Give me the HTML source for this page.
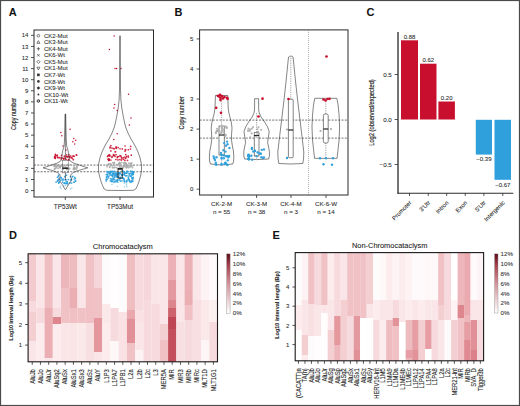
<!DOCTYPE html>
<html><head><meta charset="utf-8"><style>
html,body{margin:0;padding:0;background:#fff;}
svg{display:block;}
text{font-family:"Liberation Sans", sans-serif;}
</style></head><body>
<svg width="520" height="406" viewBox="0 0 520 406">
<defs><filter id="hb" x="-2%" y="-2%" width="104%" height="104%"><feGaussianBlur stdDeviation="0.6"/></filter></defs>
<rect width="520" height="406" fill="#fff"/>
<rect x="0.5" y="0.5" width="519" height="405" fill="none" stroke="#4a4a4a" stroke-width="1.2"/>
<text x="8.8" y="16" font-size="11" text-anchor="start" fill="#111" font-weight="bold">A</text>
<text x="174.6" y="16.2" font-size="11" text-anchor="start" fill="#111" font-weight="bold">B</text>
<text x="366.4" y="16.4" font-size="11" text-anchor="start" fill="#111" font-weight="bold">C</text>
<text x="9.0" y="239.2" font-size="11" text-anchor="start" fill="#111" font-weight="bold">D</text>
<text x="272.4" y="239.2" font-size="11" text-anchor="start" fill="#111" font-weight="bold">E</text>
<rect x="34" y="30" width="119.5" height="167" fill="none" stroke="#2a2a2a" stroke-width="1"/>
<line x1="31" y1="190.60" x2="34" y2="190.60" stroke="#2a2a2a" stroke-width="0.8"/>
<text x="28.4" y="192.7" font-size="6" text-anchor="end" fill="#2b2b2b" font-weight="normal" stroke="#2b2b2b" stroke-width="0.08">0</text>
<line x1="31" y1="179.51" x2="34" y2="179.51" stroke="#2a2a2a" stroke-width="0.8"/>
<text x="28.4" y="181.60999999999999" font-size="6" text-anchor="end" fill="#2b2b2b" font-weight="normal" stroke="#2b2b2b" stroke-width="0.08">1</text>
<line x1="31" y1="168.42" x2="34" y2="168.42" stroke="#2a2a2a" stroke-width="0.8"/>
<text x="28.4" y="170.51999999999998" font-size="6" text-anchor="end" fill="#2b2b2b" font-weight="normal" stroke="#2b2b2b" stroke-width="0.08">2</text>
<line x1="31" y1="157.33" x2="34" y2="157.33" stroke="#2a2a2a" stroke-width="0.8"/>
<text x="28.4" y="159.42999999999998" font-size="6" text-anchor="end" fill="#2b2b2b" font-weight="normal" stroke="#2b2b2b" stroke-width="0.08">3</text>
<line x1="31" y1="146.24" x2="34" y2="146.24" stroke="#2a2a2a" stroke-width="0.8"/>
<text x="28.4" y="148.34" font-size="6" text-anchor="end" fill="#2b2b2b" font-weight="normal" stroke="#2b2b2b" stroke-width="0.08">4</text>
<line x1="31" y1="135.15" x2="34" y2="135.15" stroke="#2a2a2a" stroke-width="0.8"/>
<text x="28.4" y="137.24999999999997" font-size="6" text-anchor="end" fill="#2b2b2b" font-weight="normal" stroke="#2b2b2b" stroke-width="0.08">5</text>
<line x1="31" y1="124.06" x2="34" y2="124.06" stroke="#2a2a2a" stroke-width="0.8"/>
<text x="28.4" y="126.16" font-size="6" text-anchor="end" fill="#2b2b2b" font-weight="normal" stroke="#2b2b2b" stroke-width="0.08">6</text>
<line x1="31" y1="112.97" x2="34" y2="112.97" stroke="#2a2a2a" stroke-width="0.8"/>
<text x="28.4" y="115.07" font-size="6" text-anchor="end" fill="#2b2b2b" font-weight="normal" stroke="#2b2b2b" stroke-width="0.08">7</text>
<line x1="31" y1="101.88" x2="34" y2="101.88" stroke="#2a2a2a" stroke-width="0.8"/>
<text x="28.4" y="103.97999999999999" font-size="6" text-anchor="end" fill="#2b2b2b" font-weight="normal" stroke="#2b2b2b" stroke-width="0.08">8</text>
<line x1="31" y1="90.79" x2="34" y2="90.79" stroke="#2a2a2a" stroke-width="0.8"/>
<text x="28.4" y="92.88999999999999" font-size="6" text-anchor="end" fill="#2b2b2b" font-weight="normal" stroke="#2b2b2b" stroke-width="0.08">9</text>
<line x1="31" y1="79.70" x2="34" y2="79.70" stroke="#2a2a2a" stroke-width="0.8"/>
<text x="28.4" y="81.79999999999998" font-size="6" text-anchor="end" fill="#2b2b2b" font-weight="normal" stroke="#2b2b2b" stroke-width="0.08">10</text>
<line x1="31" y1="68.61" x2="34" y2="68.61" stroke="#2a2a2a" stroke-width="0.8"/>
<text x="28.4" y="70.71" font-size="6" text-anchor="end" fill="#2b2b2b" font-weight="normal" stroke="#2b2b2b" stroke-width="0.08">11</text>
<line x1="31" y1="57.52" x2="34" y2="57.52" stroke="#2a2a2a" stroke-width="0.8"/>
<text x="28.4" y="59.62000000000001" font-size="6" text-anchor="end" fill="#2b2b2b" font-weight="normal" stroke="#2b2b2b" stroke-width="0.08">12</text>
<line x1="31" y1="46.43" x2="34" y2="46.43" stroke="#2a2a2a" stroke-width="0.8"/>
<text x="28.4" y="48.53000000000001" font-size="6" text-anchor="end" fill="#2b2b2b" font-weight="normal" stroke="#2b2b2b" stroke-width="0.08">13</text>
<line x1="31" y1="35.34" x2="34" y2="35.34" stroke="#2a2a2a" stroke-width="0.8"/>
<text x="28.4" y="37.440000000000005" font-size="6" text-anchor="end" fill="#2b2b2b" font-weight="normal" stroke="#2b2b2b" stroke-width="0.08">14</text>
<text x="15.7" y="114.0" font-size="6.5" text-anchor="middle" fill="#2b2b2b" font-weight="normal" transform="rotate(-90 15.7 114.0)" textLength="32" lengthAdjust="spacingAndGlyphs" stroke="#2b2b2b" stroke-width="0.18">Copy number</text>
<line x1="65.3" y1="197" x2="65.3" y2="200" stroke="#2a2a2a" stroke-width="0.8"/>
<text x="65.3" y="209" font-size="6.4" text-anchor="middle" fill="#2b2b2b" font-weight="normal" stroke="#2b2b2b" stroke-width="0.08">TP53Wt</text>
<line x1="120" y1="197" x2="120" y2="200" stroke="#2a2a2a" stroke-width="0.8"/>
<text x="120" y="209" font-size="6.4" text-anchor="middle" fill="#2b2b2b" font-weight="normal" stroke="#2b2b2b" stroke-width="0.08">TP53Mut</text>
<line x1="34" y1="165.09" x2="153.5" y2="165.09" stroke="#333" stroke-width="0.7" stroke-dasharray="2 1.3"/>
<line x1="34" y1="171.75" x2="153.5" y2="171.75" stroke="#333" stroke-width="0.7" stroke-dasharray="2 1.3"/>
<circle cx="61.45" cy="155.33" r="0.85" fill="#c8102e" fill-opacity="0.9"/>
<circle cx="68.97" cy="154.90" r="0.85" fill="#c8102e" fill-opacity="0.9"/>
<circle cx="66.33" cy="156.51" r="0.85" fill="#c8102e" fill-opacity="0.9"/>
<circle cx="55.33" cy="157.29" r="0.85" fill="#c8102e" fill-opacity="0.9"/>
<circle cx="54.86" cy="156.89" r="0.85" fill="#c8102e" fill-opacity="0.9"/>
<circle cx="55.61" cy="155.00" r="0.85" fill="#c8102e" fill-opacity="0.9"/>
<circle cx="63.76" cy="159.05" r="0.85" fill="#c8102e" fill-opacity="0.9"/>
<circle cx="56.85" cy="155.73" r="0.85" fill="#c8102e" fill-opacity="0.9"/>
<circle cx="68.43" cy="159.71" r="0.85" fill="#c8102e" fill-opacity="0.9"/>
<circle cx="67.27" cy="156.68" r="0.85" fill="#c8102e" fill-opacity="0.9"/>
<circle cx="76.45" cy="154.76" r="0.85" fill="#c8102e" fill-opacity="0.9"/>
<circle cx="73.74" cy="156.09" r="0.85" fill="#c8102e" fill-opacity="0.9"/>
<circle cx="57.32" cy="155.15" r="0.85" fill="#c8102e" fill-opacity="0.9"/>
<circle cx="61.10" cy="158.99" r="0.85" fill="#c8102e" fill-opacity="0.9"/>
<circle cx="58.16" cy="157.70" r="0.85" fill="#c8102e" fill-opacity="0.9"/>
<circle cx="68.70" cy="156.55" r="0.85" fill="#c8102e" fill-opacity="0.9"/>
<circle cx="66.60" cy="154.85" r="0.85" fill="#c8102e" fill-opacity="0.9"/>
<circle cx="55.37" cy="155.63" r="0.85" fill="#c8102e" fill-opacity="0.9"/>
<circle cx="69.65" cy="156.85" r="0.85" fill="#c8102e" fill-opacity="0.9"/>
<circle cx="61.23" cy="157.72" r="0.85" fill="#c8102e" fill-opacity="0.9"/>
<circle cx="64.42" cy="156.15" r="0.85" fill="#c8102e" fill-opacity="0.9"/>
<circle cx="72.27" cy="158.34" r="0.85" fill="#c8102e" fill-opacity="0.9"/>
<circle cx="59.61" cy="157.66" r="0.85" fill="#c8102e" fill-opacity="0.9"/>
<circle cx="66.08" cy="159.31" r="0.85" fill="#c8102e" fill-opacity="0.9"/>
<circle cx="70.78" cy="156.08" r="0.85" fill="#c8102e" fill-opacity="0.9"/>
<circle cx="76.54" cy="155.15" r="0.85" fill="#c8102e" fill-opacity="0.9"/>
<circle cx="63.62" cy="158.66" r="0.85" fill="#c8102e" fill-opacity="0.9"/>
<circle cx="57.50" cy="157.19" r="0.85" fill="#c8102e" fill-opacity="0.9"/>
<circle cx="54.90" cy="158.18" r="0.85" fill="#c8102e" fill-opacity="0.9"/>
<circle cx="71.59" cy="157.65" r="0.85" fill="#c8102e" fill-opacity="0.9"/>
<circle cx="74.14" cy="156.23" r="0.85" fill="#c8102e" fill-opacity="0.9"/>
<circle cx="69.99" cy="157.77" r="0.85" fill="#c8102e" fill-opacity="0.9"/>
<circle cx="67.34" cy="157.01" r="0.85" fill="#c8102e" fill-opacity="0.9"/>
<circle cx="73.32" cy="159.70" r="0.85" fill="#c8102e" fill-opacity="0.9"/>
<circle cx="64.90" cy="158.15" r="0.85" fill="#c8102e" fill-opacity="0.9"/>
<circle cx="55.40" cy="158.36" r="0.85" fill="#c8102e" fill-opacity="0.9"/>
<circle cx="68.88" cy="159.96" r="0.85" fill="#c8102e" fill-opacity="0.9"/>
<circle cx="72.90" cy="156.07" r="0.85" fill="#c8102e" fill-opacity="0.9"/>
<circle cx="62.87" cy="158.18" r="0.85" fill="#c8102e" fill-opacity="0.9"/>
<circle cx="54.52" cy="157.04" r="0.85" fill="#c8102e" fill-opacity="0.9"/>
<circle cx="60.90" cy="132.60" r="0.75" fill="#c8102e"/>
<circle cx="61.80" cy="135.70" r="0.75" fill="#c8102e"/>
<circle cx="70.10" cy="129.20" r="0.75" fill="#c8102e"/>
<circle cx="73.80" cy="138.50" r="0.75" fill="#c8102e"/>
<circle cx="75.70" cy="140.30" r="0.75" fill="#c8102e"/>
<circle cx="72.90" cy="141.80" r="0.75" fill="#c8102e"/>
<circle cx="74.70" cy="144.00" r="0.75" fill="#c8102e"/>
<circle cx="55.30" cy="154.20" r="0.75" fill="#c8102e"/>
<circle cx="66.00" cy="150.00" r="0.75" fill="#c8102e"/>
<circle cx="63.00" cy="146.00" r="0.75" fill="#c8102e"/>
<circle cx="58.03" cy="165.09" r="0.9" fill="#a9a9a9" fill-opacity="0.85"/>
<circle cx="55.41" cy="168.34" r="0.9" fill="#a9a9a9" fill-opacity="0.85"/>
<circle cx="57.10" cy="165.74" r="0.9" fill="#a9a9a9" fill-opacity="0.85"/>
<circle cx="63.38" cy="168.86" r="0.9" fill="#a9a9a9" fill-opacity="0.85"/>
<circle cx="55.93" cy="166.75" r="0.9" fill="#a9a9a9" fill-opacity="0.85"/>
<circle cx="67.19" cy="168.92" r="0.9" fill="#a9a9a9" fill-opacity="0.85"/>
<circle cx="73.66" cy="168.82" r="0.9" fill="#a9a9a9" fill-opacity="0.85"/>
<circle cx="60.68" cy="166.58" r="0.9" fill="#a9a9a9" fill-opacity="0.85"/>
<circle cx="62.61" cy="168.92" r="0.9" fill="#a9a9a9" fill-opacity="0.85"/>
<circle cx="76.99" cy="165.25" r="0.9" fill="#a9a9a9" fill-opacity="0.85"/>
<circle cx="58.23" cy="165.66" r="0.9" fill="#a9a9a9" fill-opacity="0.85"/>
<circle cx="59.60" cy="166.92" r="0.9" fill="#a9a9a9" fill-opacity="0.85"/>
<circle cx="68.14" cy="165.81" r="0.9" fill="#a9a9a9" fill-opacity="0.85"/>
<circle cx="54.10" cy="166.59" r="0.9" fill="#a9a9a9" fill-opacity="0.85"/>
<circle cx="62.86" cy="167.33" r="0.9" fill="#a9a9a9" fill-opacity="0.85"/>
<circle cx="76.87" cy="167.95" r="0.9" fill="#a9a9a9" fill-opacity="0.85"/>
<circle cx="66.37" cy="167.59" r="0.9" fill="#a9a9a9" fill-opacity="0.85"/>
<circle cx="70.23" cy="164.77" r="0.9" fill="#a9a9a9" fill-opacity="0.85"/>
<circle cx="75.59" cy="168.40" r="0.9" fill="#a9a9a9" fill-opacity="0.85"/>
<circle cx="74.99" cy="168.49" r="0.9" fill="#a9a9a9" fill-opacity="0.85"/>
<circle cx="63.42" cy="166.49" r="0.9" fill="#a9a9a9" fill-opacity="0.85"/>
<circle cx="56.48" cy="167.67" r="0.9" fill="#a9a9a9" fill-opacity="0.85"/>
<circle cx="55.49" cy="164.84" r="0.9" fill="#a9a9a9" fill-opacity="0.85"/>
<circle cx="59.01" cy="165.31" r="0.9" fill="#a9a9a9" fill-opacity="0.85"/>
<circle cx="62.16" cy="164.76" r="0.9" fill="#a9a9a9" fill-opacity="0.85"/>
<circle cx="54.01" cy="165.26" r="0.9" fill="#a9a9a9" fill-opacity="0.85"/>
<circle cx="56.44" cy="166.32" r="0.9" fill="#a9a9a9" fill-opacity="0.85"/>
<circle cx="54.61" cy="168.87" r="0.9" fill="#a9a9a9" fill-opacity="0.85"/>
<circle cx="68.74" cy="165.24" r="0.9" fill="#a9a9a9" fill-opacity="0.85"/>
<circle cx="60.05" cy="166.24" r="0.9" fill="#a9a9a9" fill-opacity="0.85"/>
<circle cx="62.74" cy="165.11" r="0.9" fill="#a9a9a9" fill-opacity="0.85"/>
<circle cx="74.37" cy="169.47" r="0.9" fill="#a9a9a9" fill-opacity="0.85"/>
<circle cx="65.18" cy="166.92" r="0.9" fill="#a9a9a9" fill-opacity="0.85"/>
<circle cx="56.06" cy="165.01" r="0.9" fill="#a9a9a9" fill-opacity="0.85"/>
<circle cx="62.22" cy="165.82" r="0.9" fill="#a9a9a9" fill-opacity="0.85"/>
<circle cx="73.89" cy="165.31" r="0.9" fill="#a9a9a9" fill-opacity="0.85"/>
<circle cx="54.55" cy="169.25" r="0.9" fill="#a9a9a9" fill-opacity="0.85"/>
<circle cx="66.68" cy="165.23" r="0.9" fill="#a9a9a9" fill-opacity="0.85"/>
<circle cx="67.04" cy="164.64" r="0.9" fill="#a9a9a9" fill-opacity="0.85"/>
<circle cx="66.67" cy="169.39" r="0.9" fill="#a9a9a9" fill-opacity="0.85"/>
<circle cx="74.72" cy="167.98" r="0.9" fill="#a9a9a9" fill-opacity="0.85"/>
<circle cx="60.27" cy="166.33" r="0.9" fill="#a9a9a9" fill-opacity="0.85"/>
<circle cx="58.01" cy="168.36" r="0.9" fill="#a9a9a9" fill-opacity="0.85"/>
<circle cx="66.78" cy="168.40" r="0.9" fill="#a9a9a9" fill-opacity="0.85"/>
<circle cx="61.91" cy="165.62" r="0.9" fill="#a9a9a9" fill-opacity="0.85"/>
<circle cx="73.48" cy="169.42" r="0.9" fill="#a9a9a9" fill-opacity="0.85"/>
<circle cx="74.46" cy="168.53" r="0.9" fill="#a9a9a9" fill-opacity="0.85"/>
<circle cx="73.64" cy="168.20" r="0.9" fill="#a9a9a9" fill-opacity="0.85"/>
<circle cx="59.44" cy="167.09" r="0.9" fill="#a9a9a9" fill-opacity="0.85"/>
<circle cx="62.53" cy="164.64" r="0.9" fill="#a9a9a9" fill-opacity="0.85"/>
<circle cx="54.67" cy="165.90" r="0.9" fill="#a9a9a9" fill-opacity="0.85"/>
<circle cx="60.22" cy="167.96" r="0.9" fill="#a9a9a9" fill-opacity="0.85"/>
<circle cx="76.96" cy="166.74" r="0.9" fill="#a9a9a9" fill-opacity="0.85"/>
<circle cx="76.49" cy="169.44" r="0.9" fill="#a9a9a9" fill-opacity="0.85"/>
<circle cx="76.92" cy="166.32" r="0.9" fill="#a9a9a9" fill-opacity="0.85"/>
<circle cx="59.29" cy="165.63" r="0.9" fill="#a9a9a9" fill-opacity="0.85"/>
<circle cx="58.72" cy="165.52" r="0.9" fill="#a9a9a9" fill-opacity="0.85"/>
<circle cx="68.98" cy="169.00" r="0.9" fill="#a9a9a9" fill-opacity="0.85"/>
<circle cx="74.17" cy="166.90" r="0.9" fill="#a9a9a9" fill-opacity="0.85"/>
<circle cx="69.67" cy="168.50" r="0.9" fill="#a9a9a9" fill-opacity="0.85"/>
<circle cx="57.70" cy="180.95" r="0.85" fill="#2fa0dc" fill-opacity="0.9"/>
<circle cx="74.20" cy="182.04" r="0.85" fill="#2fa0dc" fill-opacity="0.9"/>
<circle cx="71.00" cy="179.30" r="0.85" fill="#2fa0dc" fill-opacity="0.9"/>
<circle cx="59.57" cy="182.10" r="0.85" fill="#2fa0dc" fill-opacity="0.9"/>
<circle cx="62.65" cy="182.21" r="0.85" fill="#2fa0dc" fill-opacity="0.9"/>
<circle cx="75.43" cy="178.56" r="0.85" fill="#2fa0dc" fill-opacity="0.9"/>
<circle cx="64.03" cy="183.52" r="0.85" fill="#2fa0dc" fill-opacity="0.9"/>
<circle cx="70.50" cy="176.53" r="0.85" fill="#2fa0dc" fill-opacity="0.9"/>
<circle cx="58.54" cy="176.36" r="0.85" fill="#2fa0dc" fill-opacity="0.9"/>
<circle cx="74.10" cy="182.26" r="0.85" fill="#2fa0dc" fill-opacity="0.9"/>
<circle cx="58.92" cy="182.44" r="0.85" fill="#2fa0dc" fill-opacity="0.9"/>
<circle cx="75.61" cy="180.92" r="0.85" fill="#2fa0dc" fill-opacity="0.9"/>
<circle cx="63.01" cy="179.94" r="0.85" fill="#2fa0dc" fill-opacity="0.9"/>
<circle cx="58.62" cy="175.13" r="0.85" fill="#2fa0dc" fill-opacity="0.9"/>
<circle cx="75.42" cy="180.85" r="0.85" fill="#2fa0dc" fill-opacity="0.9"/>
<circle cx="66.53" cy="183.40" r="0.85" fill="#2fa0dc" fill-opacity="0.9"/>
<circle cx="64.68" cy="182.85" r="0.85" fill="#2fa0dc" fill-opacity="0.9"/>
<circle cx="72.52" cy="176.90" r="0.85" fill="#2fa0dc" fill-opacity="0.9"/>
<circle cx="61.04" cy="177.64" r="0.85" fill="#2fa0dc" fill-opacity="0.9"/>
<circle cx="60.81" cy="180.28" r="0.85" fill="#2fa0dc" fill-opacity="0.9"/>
<circle cx="61.19" cy="178.77" r="0.85" fill="#2fa0dc" fill-opacity="0.9"/>
<circle cx="58.62" cy="183.19" r="0.85" fill="#2fa0dc" fill-opacity="0.9"/>
<circle cx="63.08" cy="179.12" r="0.85" fill="#2fa0dc" fill-opacity="0.9"/>
<circle cx="67.67" cy="183.14" r="0.85" fill="#2fa0dc" fill-opacity="0.9"/>
<circle cx="64.41" cy="183.26" r="0.85" fill="#2fa0dc" fill-opacity="0.9"/>
<circle cx="66.03" cy="179.79" r="0.85" fill="#2fa0dc" fill-opacity="0.9"/>
<circle cx="66.47" cy="175.17" r="0.85" fill="#2fa0dc" fill-opacity="0.9"/>
<circle cx="64.80" cy="176.65" r="0.85" fill="#2fa0dc" fill-opacity="0.9"/>
<circle cx="56.08" cy="182.19" r="0.85" fill="#2fa0dc" fill-opacity="0.9"/>
<circle cx="59.45" cy="179.26" r="0.85" fill="#2fa0dc" fill-opacity="0.9"/>
<circle cx="70.50" cy="180.01" r="0.85" fill="#2fa0dc" fill-opacity="0.9"/>
<circle cx="62.52" cy="179.67" r="0.85" fill="#2fa0dc" fill-opacity="0.9"/>
<circle cx="67.11" cy="182.06" r="0.85" fill="#2fa0dc" fill-opacity="0.9"/>
<circle cx="58.12" cy="180.04" r="0.85" fill="#2fa0dc" fill-opacity="0.9"/>
<circle cx="60.97" cy="177.49" r="0.85" fill="#2fa0dc" fill-opacity="0.9"/>
<circle cx="71.45" cy="179.57" r="0.85" fill="#2fa0dc" fill-opacity="0.9"/>
<circle cx="67.23" cy="181.84" r="0.85" fill="#2fa0dc" fill-opacity="0.9"/>
<circle cx="74.25" cy="178.99" r="0.85" fill="#2fa0dc" fill-opacity="0.9"/>
<circle cx="68.25" cy="179.55" r="0.85" fill="#2fa0dc" fill-opacity="0.9"/>
<circle cx="66.24" cy="181.23" r="0.85" fill="#2fa0dc" fill-opacity="0.9"/>
<circle cx="65.05" cy="179.80" r="0.85" fill="#2fa0dc" fill-opacity="0.9"/>
<circle cx="65.56" cy="183.47" r="0.85" fill="#2fa0dc" fill-opacity="0.9"/>
<circle cx="69.98" cy="182.89" r="0.85" fill="#2fa0dc" fill-opacity="0.9"/>
<circle cx="74.84" cy="177.34" r="0.85" fill="#2fa0dc" fill-opacity="0.9"/>
<circle cx="67.19" cy="183.49" r="0.85" fill="#2fa0dc" fill-opacity="0.9"/>
<circle cx="72.80" cy="176.23" r="0.85" fill="#2fa0dc" fill-opacity="0.9"/>
<circle cx="58.43" cy="178.98" r="0.85" fill="#2fa0dc" fill-opacity="0.9"/>
<circle cx="57.45" cy="177.17" r="0.85" fill="#2fa0dc" fill-opacity="0.9"/>
<circle cx="57.46" cy="181.03" r="0.85" fill="#2fa0dc" fill-opacity="0.9"/>
<circle cx="71.68" cy="183.07" r="0.85" fill="#2fa0dc" fill-opacity="0.9"/>
<circle cx="60.16" cy="187.58" r="0.6" fill="#2fa0dc" fill-opacity="0.7"/>
<circle cx="67.24" cy="184.71" r="0.6" fill="#2fa0dc" fill-opacity="0.7"/>
<circle cx="70.36" cy="188.84" r="0.6" fill="#2fa0dc" fill-opacity="0.7"/>
<circle cx="61.07" cy="188.76" r="0.6" fill="#2fa0dc" fill-opacity="0.7"/>
<circle cx="63.58" cy="186.44" r="0.6" fill="#2fa0dc" fill-opacity="0.7"/>
<circle cx="71.86" cy="188.16" r="0.6" fill="#2fa0dc" fill-opacity="0.7"/>
<circle cx="60.26" cy="186.16" r="0.6" fill="#2fa0dc" fill-opacity="0.7"/>
<circle cx="65.22" cy="185.70" r="0.6" fill="#2fa0dc" fill-opacity="0.7"/>
<path d="M65.70,114.00 L65.90,125.00 L66.20,138.00 L66.70,146.00 L67.90,150.00 L68.60,153.50 L69.00,157.00 L69.20,159.50 L70.20,161.00 L73.40,163.00 L79.40,165.00 L84.40,166.80 L87.80,167.80 L84.40,168.80 L78.40,170.50 L73.40,172.50 L70.90,174.50 L70.60,176.50 L71.60,178.50 L71.40,180.50 L69.60,183.00 L67.60,186.00 L65.70,189.60 L65.10,189.60 L63.20,186.00 L61.20,183.00 L59.40,180.50 L59.20,178.50 L60.20,176.50 L59.90,174.50 L57.40,172.50 L52.40,170.50 L46.40,168.80 L43.00,167.80 L46.40,166.80 L51.40,165.00 L57.40,163.00 L60.60,161.00 L61.60,159.50 L61.80,157.00 L62.20,153.50 L62.90,150.00 L64.10,146.00 L64.60,138.00 L64.90,125.00 L65.10,114.00 Z" fill="none" stroke="#333" stroke-width="0.6" stroke-linejoin="round"/>
<line x1="65.4" y1="114" x2="65.4" y2="160" stroke="#222" stroke-width="0.55"/>
<rect x="62.6" y="160.3" width="5.6" height="12.5" fill="none" stroke="#555" stroke-width="0.5"/>
<line x1="62.6" y1="168.2" x2="68.2" y2="168.2" stroke="#111" stroke-width="1.4"/>
<line x1="65.4" y1="172.8" x2="65.4" y2="180" stroke="#222" stroke-width="0.6"/>
<circle cx="112.09" cy="156.41" r="0.85" fill="#c8102e" fill-opacity="0.9"/>
<circle cx="125.78" cy="154.62" r="0.85" fill="#c8102e" fill-opacity="0.9"/>
<circle cx="121.41" cy="157.14" r="0.85" fill="#c8102e" fill-opacity="0.9"/>
<circle cx="107.47" cy="156.49" r="0.85" fill="#c8102e" fill-opacity="0.9"/>
<circle cx="123.22" cy="157.57" r="0.85" fill="#c8102e" fill-opacity="0.9"/>
<circle cx="108.67" cy="160.41" r="0.85" fill="#c8102e" fill-opacity="0.9"/>
<circle cx="127.50" cy="160.33" r="0.85" fill="#c8102e" fill-opacity="0.9"/>
<circle cx="109.72" cy="156.09" r="0.85" fill="#c8102e" fill-opacity="0.9"/>
<circle cx="108.03" cy="159.17" r="0.85" fill="#c8102e" fill-opacity="0.9"/>
<circle cx="114.03" cy="155.28" r="0.85" fill="#c8102e" fill-opacity="0.9"/>
<circle cx="117.98" cy="159.97" r="0.85" fill="#c8102e" fill-opacity="0.9"/>
<circle cx="128.29" cy="156.05" r="0.85" fill="#c8102e" fill-opacity="0.9"/>
<circle cx="110.88" cy="160.02" r="0.85" fill="#c8102e" fill-opacity="0.9"/>
<circle cx="121.84" cy="158.70" r="0.85" fill="#c8102e" fill-opacity="0.9"/>
<circle cx="109.33" cy="154.85" r="0.85" fill="#c8102e" fill-opacity="0.9"/>
<circle cx="124.89" cy="157.05" r="0.85" fill="#c8102e" fill-opacity="0.9"/>
<circle cx="108.88" cy="160.13" r="0.85" fill="#c8102e" fill-opacity="0.9"/>
<circle cx="123.50" cy="159.31" r="0.85" fill="#c8102e" fill-opacity="0.9"/>
<circle cx="109.18" cy="159.64" r="0.85" fill="#c8102e" fill-opacity="0.9"/>
<circle cx="108.73" cy="159.68" r="0.85" fill="#c8102e" fill-opacity="0.9"/>
<circle cx="118.80" cy="156.53" r="0.85" fill="#c8102e" fill-opacity="0.9"/>
<circle cx="121.38" cy="160.06" r="0.85" fill="#c8102e" fill-opacity="0.9"/>
<circle cx="113.96" cy="155.28" r="0.85" fill="#c8102e" fill-opacity="0.9"/>
<circle cx="120.70" cy="155.93" r="0.85" fill="#c8102e" fill-opacity="0.9"/>
<circle cx="109.85" cy="155.47" r="0.85" fill="#c8102e" fill-opacity="0.9"/>
<circle cx="108.31" cy="155.71" r="0.85" fill="#c8102e" fill-opacity="0.9"/>
<circle cx="115.11" cy="156.33" r="0.85" fill="#c8102e" fill-opacity="0.9"/>
<circle cx="126.75" cy="156.24" r="0.85" fill="#c8102e" fill-opacity="0.9"/>
<circle cx="120.00" cy="155.57" r="0.85" fill="#c8102e" fill-opacity="0.9"/>
<circle cx="116.02" cy="154.61" r="0.85" fill="#c8102e" fill-opacity="0.9"/>
<circle cx="113.51" cy="154.59" r="0.85" fill="#c8102e" fill-opacity="0.9"/>
<circle cx="126.06" cy="157.81" r="0.85" fill="#c8102e" fill-opacity="0.9"/>
<circle cx="111.93" cy="157.35" r="0.85" fill="#c8102e" fill-opacity="0.9"/>
<circle cx="131.30" cy="155.14" r="0.85" fill="#c8102e" fill-opacity="0.9"/>
<circle cx="128.29" cy="157.09" r="0.85" fill="#c8102e" fill-opacity="0.9"/>
<circle cx="119.87" cy="159.51" r="0.85" fill="#c8102e" fill-opacity="0.9"/>
<circle cx="117.22" cy="157.54" r="0.85" fill="#c8102e" fill-opacity="0.9"/>
<circle cx="124.88" cy="160.39" r="0.85" fill="#c8102e" fill-opacity="0.9"/>
<circle cx="115.91" cy="159.49" r="0.85" fill="#c8102e" fill-opacity="0.9"/>
<circle cx="125.37" cy="158.32" r="0.85" fill="#c8102e" fill-opacity="0.9"/>
<circle cx="117.52" cy="156.59" r="0.85" fill="#c8102e" fill-opacity="0.9"/>
<circle cx="108.41" cy="155.28" r="0.85" fill="#c8102e" fill-opacity="0.9"/>
<circle cx="108.84" cy="158.95" r="0.85" fill="#c8102e" fill-opacity="0.9"/>
<circle cx="113.65" cy="155.48" r="0.85" fill="#c8102e" fill-opacity="0.9"/>
<circle cx="109.20" cy="159.55" r="0.85" fill="#c8102e" fill-opacity="0.9"/>
<circle cx="128.28" cy="149.86" r="0.85" fill="#c8102e" fill-opacity="0.85"/>
<circle cx="115.92" cy="147.07" r="0.85" fill="#c8102e" fill-opacity="0.85"/>
<circle cx="116.15" cy="148.49" r="0.85" fill="#c8102e" fill-opacity="0.85"/>
<circle cx="113.31" cy="148.40" r="0.85" fill="#c8102e" fill-opacity="0.85"/>
<circle cx="115.53" cy="151.75" r="0.85" fill="#c8102e" fill-opacity="0.85"/>
<circle cx="130.43" cy="149.06" r="0.85" fill="#c8102e" fill-opacity="0.85"/>
<circle cx="115.13" cy="151.78" r="0.85" fill="#c8102e" fill-opacity="0.85"/>
<circle cx="116.50" cy="147.82" r="0.85" fill="#c8102e" fill-opacity="0.85"/>
<circle cx="110.02" cy="147.98" r="0.85" fill="#c8102e" fill-opacity="0.85"/>
<circle cx="119.97" cy="148.77" r="0.85" fill="#c8102e" fill-opacity="0.85"/>
<circle cx="114.22" cy="148.78" r="0.85" fill="#c8102e" fill-opacity="0.85"/>
<circle cx="110.10" cy="147.22" r="0.85" fill="#c8102e" fill-opacity="0.85"/>
<circle cx="111.88" cy="148.10" r="0.85" fill="#c8102e" fill-opacity="0.85"/>
<circle cx="110.88" cy="145.65" r="0.85" fill="#c8102e" fill-opacity="0.85"/>
<circle cx="116.39" cy="147.01" r="0.85" fill="#c8102e" fill-opacity="0.85"/>
<circle cx="122.30" cy="148.94" r="0.85" fill="#c8102e" fill-opacity="0.85"/>
<circle cx="125.76" cy="149.77" r="0.85" fill="#c8102e" fill-opacity="0.85"/>
<circle cx="125.04" cy="151.21" r="0.85" fill="#c8102e" fill-opacity="0.85"/>
<circle cx="118.18" cy="147.62" r="0.85" fill="#c8102e" fill-opacity="0.85"/>
<circle cx="130.68" cy="146.47" r="0.85" fill="#c8102e" fill-opacity="0.85"/>
<circle cx="125.21" cy="149.68" r="0.85" fill="#c8102e" fill-opacity="0.85"/>
<circle cx="110.92" cy="150.93" r="0.85" fill="#c8102e" fill-opacity="0.85"/>
<circle cx="114.10" cy="35.90" r="0.75" fill="#c8102e"/>
<circle cx="109.40" cy="49.50" r="0.75" fill="#c8102e"/>
<circle cx="115.00" cy="68.50" r="0.75" fill="#c8102e"/>
<circle cx="116.60" cy="68.50" r="0.75" fill="#c8102e"/>
<circle cx="121.00" cy="68.50" r="0.75" fill="#c8102e"/>
<circle cx="128.50" cy="94.30" r="0.75" fill="#c8102e"/>
<circle cx="114.70" cy="104.60" r="0.75" fill="#c8102e"/>
<circle cx="114.00" cy="108.00" r="0.75" fill="#c8102e"/>
<circle cx="117.20" cy="110.50" r="0.75" fill="#c8102e"/>
<circle cx="129.40" cy="125.00" r="0.75" fill="#c8102e"/>
<circle cx="117.20" cy="133.80" r="0.75" fill="#c8102e"/>
<circle cx="113.80" cy="139.40" r="0.75" fill="#c8102e"/>
<circle cx="125.00" cy="146.00" r="0.75" fill="#c8102e"/>
<circle cx="131.00" cy="118.00" r="0.75" fill="#c8102e"/>
<circle cx="130.19" cy="165.95" r="0.9" fill="#a9a9a9" fill-opacity="0.85"/>
<circle cx="126.08" cy="166.97" r="0.9" fill="#a9a9a9" fill-opacity="0.85"/>
<circle cx="110.62" cy="165.38" r="0.9" fill="#a9a9a9" fill-opacity="0.85"/>
<circle cx="120.11" cy="167.09" r="0.9" fill="#a9a9a9" fill-opacity="0.85"/>
<circle cx="127.92" cy="167.05" r="0.9" fill="#a9a9a9" fill-opacity="0.85"/>
<circle cx="122.19" cy="167.41" r="0.9" fill="#a9a9a9" fill-opacity="0.85"/>
<circle cx="124.76" cy="166.31" r="0.9" fill="#a9a9a9" fill-opacity="0.85"/>
<circle cx="112.98" cy="162.67" r="0.9" fill="#a9a9a9" fill-opacity="0.85"/>
<circle cx="110.46" cy="164.48" r="0.9" fill="#a9a9a9" fill-opacity="0.85"/>
<circle cx="109.73" cy="167.10" r="0.9" fill="#a9a9a9" fill-opacity="0.85"/>
<circle cx="121.52" cy="165.95" r="0.9" fill="#a9a9a9" fill-opacity="0.85"/>
<circle cx="123.28" cy="166.24" r="0.9" fill="#a9a9a9" fill-opacity="0.85"/>
<circle cx="119.72" cy="162.52" r="0.9" fill="#a9a9a9" fill-opacity="0.85"/>
<circle cx="127.74" cy="166.62" r="0.9" fill="#a9a9a9" fill-opacity="0.85"/>
<circle cx="120.08" cy="165.44" r="0.9" fill="#a9a9a9" fill-opacity="0.85"/>
<circle cx="124.14" cy="162.86" r="0.9" fill="#a9a9a9" fill-opacity="0.85"/>
<circle cx="126.16" cy="163.89" r="0.9" fill="#a9a9a9" fill-opacity="0.85"/>
<circle cx="108.94" cy="163.96" r="0.9" fill="#a9a9a9" fill-opacity="0.85"/>
<circle cx="125.96" cy="163.63" r="0.9" fill="#a9a9a9" fill-opacity="0.85"/>
<circle cx="126.24" cy="167.87" r="0.9" fill="#a9a9a9" fill-opacity="0.85"/>
<circle cx="119.84" cy="164.60" r="0.9" fill="#a9a9a9" fill-opacity="0.85"/>
<circle cx="119.45" cy="166.26" r="0.9" fill="#a9a9a9" fill-opacity="0.85"/>
<circle cx="126.94" cy="165.89" r="0.9" fill="#a9a9a9" fill-opacity="0.85"/>
<circle cx="123.71" cy="162.93" r="0.9" fill="#a9a9a9" fill-opacity="0.85"/>
<circle cx="110.83" cy="163.90" r="0.9" fill="#a9a9a9" fill-opacity="0.85"/>
<circle cx="126.32" cy="164.17" r="0.9" fill="#a9a9a9" fill-opacity="0.85"/>
<circle cx="121.76" cy="162.57" r="0.9" fill="#a9a9a9" fill-opacity="0.85"/>
<circle cx="108.58" cy="163.98" r="0.9" fill="#a9a9a9" fill-opacity="0.85"/>
<circle cx="124.47" cy="166.31" r="0.9" fill="#a9a9a9" fill-opacity="0.85"/>
<circle cx="124.57" cy="164.10" r="0.9" fill="#a9a9a9" fill-opacity="0.85"/>
<circle cx="120.43" cy="165.06" r="0.9" fill="#a9a9a9" fill-opacity="0.85"/>
<circle cx="119.12" cy="163.15" r="0.9" fill="#a9a9a9" fill-opacity="0.85"/>
<circle cx="130.24" cy="163.60" r="0.9" fill="#a9a9a9" fill-opacity="0.85"/>
<circle cx="132.43" cy="167.65" r="0.9" fill="#a9a9a9" fill-opacity="0.85"/>
<circle cx="107.46" cy="165.02" r="0.9" fill="#a9a9a9" fill-opacity="0.85"/>
<circle cx="128.32" cy="167.82" r="0.9" fill="#a9a9a9" fill-opacity="0.85"/>
<circle cx="118.69" cy="163.98" r="0.9" fill="#a9a9a9" fill-opacity="0.85"/>
<circle cx="112.46" cy="167.70" r="0.9" fill="#a9a9a9" fill-opacity="0.85"/>
<circle cx="112.48" cy="165.70" r="0.9" fill="#a9a9a9" fill-opacity="0.85"/>
<circle cx="110.69" cy="165.38" r="0.9" fill="#a9a9a9" fill-opacity="0.85"/>
<circle cx="131.77" cy="163.23" r="0.9" fill="#a9a9a9" fill-opacity="0.85"/>
<circle cx="128.33" cy="165.30" r="0.9" fill="#a9a9a9" fill-opacity="0.85"/>
<circle cx="130.06" cy="166.37" r="0.9" fill="#a9a9a9" fill-opacity="0.85"/>
<circle cx="113.02" cy="167.44" r="0.9" fill="#a9a9a9" fill-opacity="0.85"/>
<circle cx="119.64" cy="162.64" r="0.9" fill="#a9a9a9" fill-opacity="0.85"/>
<circle cx="107.09" cy="165.20" r="0.9" fill="#a9a9a9" fill-opacity="0.85"/>
<circle cx="118.72" cy="164.16" r="0.9" fill="#a9a9a9" fill-opacity="0.85"/>
<circle cx="110.66" cy="164.39" r="0.9" fill="#a9a9a9" fill-opacity="0.85"/>
<circle cx="115.22" cy="167.12" r="0.9" fill="#a9a9a9" fill-opacity="0.85"/>
<circle cx="107.05" cy="166.63" r="0.9" fill="#a9a9a9" fill-opacity="0.85"/>
<circle cx="128.82" cy="163.16" r="0.9" fill="#a9a9a9" fill-opacity="0.85"/>
<circle cx="131.09" cy="166.42" r="0.9" fill="#a9a9a9" fill-opacity="0.85"/>
<circle cx="130.44" cy="164.09" r="0.9" fill="#a9a9a9" fill-opacity="0.85"/>
<circle cx="116.68" cy="164.66" r="0.9" fill="#a9a9a9" fill-opacity="0.85"/>
<circle cx="132.97" cy="165.74" r="0.9" fill="#a9a9a9" fill-opacity="0.85"/>
<circle cx="116.38" cy="164.85" r="0.9" fill="#a9a9a9" fill-opacity="0.85"/>
<circle cx="114.15" cy="162.77" r="0.9" fill="#a9a9a9" fill-opacity="0.85"/>
<circle cx="109.64" cy="167.09" r="0.9" fill="#a9a9a9" fill-opacity="0.85"/>
<circle cx="114.43" cy="167.65" r="0.9" fill="#a9a9a9" fill-opacity="0.85"/>
<circle cx="113.48" cy="163.96" r="0.9" fill="#a9a9a9" fill-opacity="0.85"/>
<circle cx="120.29" cy="163.54" r="0.9" fill="#a9a9a9" fill-opacity="0.85"/>
<circle cx="116.71" cy="167.76" r="0.9" fill="#a9a9a9" fill-opacity="0.85"/>
<circle cx="129.99" cy="166.97" r="0.9" fill="#a9a9a9" fill-opacity="0.85"/>
<circle cx="123.40" cy="167.52" r="0.9" fill="#a9a9a9" fill-opacity="0.85"/>
<circle cx="131.46" cy="165.52" r="0.9" fill="#a9a9a9" fill-opacity="0.85"/>
<circle cx="125.71" cy="162.77" r="0.9" fill="#a9a9a9" fill-opacity="0.85"/>
<circle cx="126.04" cy="164.98" r="0.9" fill="#a9a9a9" fill-opacity="0.85"/>
<circle cx="126.57" cy="166.04" r="0.9" fill="#a9a9a9" fill-opacity="0.85"/>
<circle cx="114.44" cy="162.77" r="0.9" fill="#a9a9a9" fill-opacity="0.85"/>
<circle cx="131.10" cy="163.20" r="0.9" fill="#a9a9a9" fill-opacity="0.85"/>
<circle cx="119.22" cy="174.78" r="0.85" fill="#2fa0dc" fill-opacity="0.9"/>
<circle cx="114.34" cy="179.13" r="0.85" fill="#2fa0dc" fill-opacity="0.9"/>
<circle cx="133.34" cy="173.86" r="0.85" fill="#2fa0dc" fill-opacity="0.9"/>
<circle cx="124.37" cy="174.31" r="0.85" fill="#2fa0dc" fill-opacity="0.9"/>
<circle cx="121.61" cy="175.34" r="0.85" fill="#2fa0dc" fill-opacity="0.9"/>
<circle cx="110.69" cy="172.78" r="0.85" fill="#2fa0dc" fill-opacity="0.9"/>
<circle cx="111.82" cy="180.97" r="0.85" fill="#2fa0dc" fill-opacity="0.9"/>
<circle cx="119.92" cy="173.42" r="0.85" fill="#2fa0dc" fill-opacity="0.9"/>
<circle cx="131.38" cy="181.96" r="0.85" fill="#2fa0dc" fill-opacity="0.9"/>
<circle cx="118.60" cy="172.54" r="0.85" fill="#2fa0dc" fill-opacity="0.9"/>
<circle cx="111.39" cy="172.00" r="0.85" fill="#2fa0dc" fill-opacity="0.9"/>
<circle cx="115.57" cy="172.00" r="0.85" fill="#2fa0dc" fill-opacity="0.9"/>
<circle cx="112.70" cy="173.84" r="0.85" fill="#2fa0dc" fill-opacity="0.9"/>
<circle cx="121.95" cy="180.76" r="0.85" fill="#2fa0dc" fill-opacity="0.9"/>
<circle cx="126.99" cy="175.54" r="0.85" fill="#2fa0dc" fill-opacity="0.9"/>
<circle cx="117.59" cy="176.77" r="0.85" fill="#2fa0dc" fill-opacity="0.9"/>
<circle cx="116.55" cy="174.72" r="0.85" fill="#2fa0dc" fill-opacity="0.9"/>
<circle cx="107.74" cy="174.05" r="0.85" fill="#2fa0dc" fill-opacity="0.9"/>
<circle cx="133.10" cy="172.38" r="0.85" fill="#2fa0dc" fill-opacity="0.9"/>
<circle cx="120.10" cy="177.93" r="0.85" fill="#2fa0dc" fill-opacity="0.9"/>
<circle cx="130.16" cy="173.38" r="0.85" fill="#2fa0dc" fill-opacity="0.9"/>
<circle cx="113.59" cy="173.73" r="0.85" fill="#2fa0dc" fill-opacity="0.9"/>
<circle cx="117.19" cy="175.90" r="0.85" fill="#2fa0dc" fill-opacity="0.9"/>
<circle cx="132.71" cy="180.34" r="0.85" fill="#2fa0dc" fill-opacity="0.9"/>
<circle cx="130.44" cy="171.24" r="0.85" fill="#2fa0dc" fill-opacity="0.9"/>
<circle cx="106.90" cy="178.80" r="0.85" fill="#2fa0dc" fill-opacity="0.9"/>
<circle cx="131.08" cy="176.21" r="0.85" fill="#2fa0dc" fill-opacity="0.9"/>
<circle cx="122.44" cy="171.00" r="0.85" fill="#2fa0dc" fill-opacity="0.9"/>
<circle cx="116.96" cy="181.20" r="0.85" fill="#2fa0dc" fill-opacity="0.9"/>
<circle cx="129.12" cy="180.41" r="0.85" fill="#2fa0dc" fill-opacity="0.9"/>
<circle cx="133.22" cy="173.73" r="0.85" fill="#2fa0dc" fill-opacity="0.9"/>
<circle cx="109.05" cy="172.70" r="0.85" fill="#2fa0dc" fill-opacity="0.9"/>
<circle cx="120.63" cy="178.50" r="0.85" fill="#2fa0dc" fill-opacity="0.9"/>
<circle cx="132.36" cy="178.94" r="0.85" fill="#2fa0dc" fill-opacity="0.9"/>
<circle cx="124.13" cy="179.41" r="0.85" fill="#2fa0dc" fill-opacity="0.9"/>
<circle cx="118.81" cy="177.07" r="0.85" fill="#2fa0dc" fill-opacity="0.9"/>
<circle cx="107.11" cy="179.61" r="0.85" fill="#2fa0dc" fill-opacity="0.9"/>
<circle cx="112.51" cy="181.12" r="0.85" fill="#2fa0dc" fill-opacity="0.9"/>
<circle cx="124.07" cy="174.34" r="0.85" fill="#2fa0dc" fill-opacity="0.9"/>
<circle cx="109.58" cy="173.77" r="0.85" fill="#2fa0dc" fill-opacity="0.9"/>
<circle cx="123.82" cy="178.68" r="0.85" fill="#2fa0dc" fill-opacity="0.9"/>
<circle cx="109.14" cy="171.77" r="0.85" fill="#2fa0dc" fill-opacity="0.9"/>
<circle cx="120.68" cy="177.41" r="0.85" fill="#2fa0dc" fill-opacity="0.9"/>
<circle cx="116.87" cy="173.46" r="0.85" fill="#2fa0dc" fill-opacity="0.9"/>
<circle cx="122.83" cy="171.12" r="0.85" fill="#2fa0dc" fill-opacity="0.9"/>
<circle cx="114.44" cy="176.07" r="0.85" fill="#2fa0dc" fill-opacity="0.9"/>
<circle cx="132.85" cy="178.09" r="0.85" fill="#2fa0dc" fill-opacity="0.9"/>
<circle cx="130.75" cy="176.23" r="0.85" fill="#2fa0dc" fill-opacity="0.9"/>
<circle cx="112.57" cy="173.72" r="0.85" fill="#2fa0dc" fill-opacity="0.9"/>
<circle cx="132.90" cy="178.75" r="0.85" fill="#2fa0dc" fill-opacity="0.9"/>
<circle cx="114.61" cy="171.24" r="0.85" fill="#2fa0dc" fill-opacity="0.9"/>
<circle cx="119.95" cy="178.42" r="0.85" fill="#2fa0dc" fill-opacity="0.9"/>
<circle cx="117.76" cy="173.83" r="0.85" fill="#2fa0dc" fill-opacity="0.9"/>
<circle cx="124.69" cy="181.18" r="0.85" fill="#2fa0dc" fill-opacity="0.9"/>
<circle cx="112.35" cy="171.38" r="0.85" fill="#2fa0dc" fill-opacity="0.9"/>
<circle cx="115.47" cy="175.63" r="0.85" fill="#2fa0dc" fill-opacity="0.9"/>
<circle cx="125.11" cy="173.18" r="0.85" fill="#2fa0dc" fill-opacity="0.9"/>
<circle cx="128.32" cy="179.13" r="0.85" fill="#2fa0dc" fill-opacity="0.9"/>
<circle cx="120.14" cy="173.26" r="0.85" fill="#2fa0dc" fill-opacity="0.9"/>
<circle cx="133.16" cy="174.43" r="0.85" fill="#2fa0dc" fill-opacity="0.9"/>
<circle cx="128.96" cy="173.54" r="0.85" fill="#2fa0dc" fill-opacity="0.9"/>
<circle cx="112.20" cy="179.37" r="0.85" fill="#2fa0dc" fill-opacity="0.9"/>
<circle cx="114.26" cy="181.47" r="0.85" fill="#2fa0dc" fill-opacity="0.9"/>
<circle cx="119.88" cy="173.06" r="0.85" fill="#2fa0dc" fill-opacity="0.9"/>
<circle cx="112.25" cy="175.59" r="0.85" fill="#2fa0dc" fill-opacity="0.9"/>
<circle cx="124.63" cy="181.44" r="0.85" fill="#2fa0dc" fill-opacity="0.9"/>
<circle cx="110.10" cy="175.33" r="0.85" fill="#2fa0dc" fill-opacity="0.9"/>
<circle cx="111.96" cy="181.72" r="0.85" fill="#2fa0dc" fill-opacity="0.9"/>
<circle cx="109.97" cy="171.57" r="0.85" fill="#2fa0dc" fill-opacity="0.9"/>
<circle cx="107.68" cy="175.33" r="0.85" fill="#2fa0dc" fill-opacity="0.9"/>
<circle cx="131.15" cy="180.72" r="0.85" fill="#2fa0dc" fill-opacity="0.9"/>
<circle cx="126.52" cy="181.97" r="0.85" fill="#2fa0dc" fill-opacity="0.9"/>
<circle cx="132.08" cy="174.62" r="0.85" fill="#2fa0dc" fill-opacity="0.9"/>
<circle cx="111.19" cy="181.29" r="0.85" fill="#2fa0dc" fill-opacity="0.9"/>
<circle cx="126.90" cy="171.35" r="0.85" fill="#2fa0dc" fill-opacity="0.9"/>
<circle cx="124.60" cy="175.16" r="0.85" fill="#2fa0dc" fill-opacity="0.9"/>
<circle cx="116.47" cy="174.65" r="0.85" fill="#2fa0dc" fill-opacity="0.9"/>
<circle cx="110.74" cy="171.03" r="0.85" fill="#2fa0dc" fill-opacity="0.9"/>
<circle cx="113.83" cy="174.87" r="0.85" fill="#2fa0dc" fill-opacity="0.9"/>
<circle cx="132.75" cy="172.36" r="0.85" fill="#2fa0dc" fill-opacity="0.9"/>
<circle cx="133.00" cy="173.28" r="0.85" fill="#2fa0dc" fill-opacity="0.9"/>
<circle cx="115.99" cy="180.04" r="0.85" fill="#2fa0dc" fill-opacity="0.9"/>
<circle cx="129.02" cy="175.76" r="0.85" fill="#2fa0dc" fill-opacity="0.9"/>
<circle cx="107.38" cy="176.21" r="0.85" fill="#2fa0dc" fill-opacity="0.9"/>
<circle cx="116.44" cy="181.11" r="0.85" fill="#2fa0dc" fill-opacity="0.9"/>
<circle cx="111.40" cy="175.01" r="0.85" fill="#2fa0dc" fill-opacity="0.9"/>
<circle cx="131.12" cy="171.33" r="0.85" fill="#2fa0dc" fill-opacity="0.9"/>
<circle cx="117.50" cy="179.93" r="0.85" fill="#2fa0dc" fill-opacity="0.9"/>
<circle cx="127.47" cy="171.45" r="0.85" fill="#2fa0dc" fill-opacity="0.9"/>
<circle cx="106.98" cy="171.69" r="0.85" fill="#2fa0dc" fill-opacity="0.9"/>
<circle cx="131.76" cy="173.83" r="0.85" fill="#2fa0dc" fill-opacity="0.9"/>
<circle cx="126.92" cy="180.88" r="0.85" fill="#2fa0dc" fill-opacity="0.9"/>
<circle cx="115.49" cy="174.00" r="0.85" fill="#2fa0dc" fill-opacity="0.9"/>
<circle cx="132.82" cy="177.79" r="0.85" fill="#2fa0dc" fill-opacity="0.9"/>
<circle cx="113.34" cy="178.88" r="0.85" fill="#2fa0dc" fill-opacity="0.9"/>
<circle cx="114.86" cy="174.03" r="0.85" fill="#2fa0dc" fill-opacity="0.9"/>
<circle cx="106.11" cy="179.31" r="0.85" fill="#2fa0dc" fill-opacity="0.9"/>
<circle cx="131.66" cy="177.97" r="0.85" fill="#2fa0dc" fill-opacity="0.9"/>
<circle cx="132.41" cy="171.27" r="0.85" fill="#2fa0dc" fill-opacity="0.9"/>
<circle cx="112.55" cy="176.23" r="0.85" fill="#2fa0dc" fill-opacity="0.9"/>
<circle cx="132.79" cy="181.49" r="0.85" fill="#2fa0dc" fill-opacity="0.9"/>
<circle cx="116.82" cy="173.76" r="0.85" fill="#2fa0dc" fill-opacity="0.9"/>
<circle cx="118.04" cy="176.43" r="0.85" fill="#2fa0dc" fill-opacity="0.9"/>
<circle cx="131.99" cy="173.01" r="0.85" fill="#2fa0dc" fill-opacity="0.9"/>
<circle cx="128.47" cy="179.12" r="0.85" fill="#2fa0dc" fill-opacity="0.9"/>
<circle cx="129.04" cy="179.50" r="0.85" fill="#2fa0dc" fill-opacity="0.9"/>
<circle cx="123.00" cy="174.61" r="0.85" fill="#2fa0dc" fill-opacity="0.9"/>
<circle cx="114.95" cy="174.98" r="0.85" fill="#2fa0dc" fill-opacity="0.9"/>
<circle cx="127.90" cy="171.87" r="0.85" fill="#2fa0dc" fill-opacity="0.9"/>
<circle cx="111.52" cy="179.28" r="0.85" fill="#2fa0dc" fill-opacity="0.9"/>
<circle cx="112.92" cy="171.71" r="0.85" fill="#2fa0dc" fill-opacity="0.9"/>
<circle cx="106.95" cy="177.08" r="0.85" fill="#2fa0dc" fill-opacity="0.9"/>
<circle cx="115.12" cy="181.78" r="0.85" fill="#2fa0dc" fill-opacity="0.9"/>
<circle cx="130.74" cy="181.87" r="0.85" fill="#2fa0dc" fill-opacity="0.9"/>
<circle cx="113.42" cy="171.92" r="0.85" fill="#2fa0dc" fill-opacity="0.9"/>
<circle cx="108.70" cy="176.48" r="0.85" fill="#2fa0dc" fill-opacity="0.9"/>
<circle cx="125.87" cy="175.92" r="0.85" fill="#2fa0dc" fill-opacity="0.9"/>
<circle cx="112.56" cy="175.59" r="0.85" fill="#2fa0dc" fill-opacity="0.9"/>
<circle cx="123.37" cy="178.42" r="0.85" fill="#2fa0dc" fill-opacity="0.9"/>
<circle cx="126.94" cy="180.32" r="0.85" fill="#2fa0dc" fill-opacity="0.9"/>
<circle cx="124.60" cy="172.33" r="0.85" fill="#2fa0dc" fill-opacity="0.9"/>
<circle cx="129.54" cy="174.23" r="0.85" fill="#2fa0dc" fill-opacity="0.9"/>
<circle cx="121.87" cy="175.10" r="0.85" fill="#2fa0dc" fill-opacity="0.9"/>
<circle cx="126.67" cy="173.19" r="0.85" fill="#2fa0dc" fill-opacity="0.9"/>
<circle cx="112.93" cy="173.70" r="0.85" fill="#2fa0dc" fill-opacity="0.9"/>
<circle cx="110.29" cy="180.73" r="0.85" fill="#2fa0dc" fill-opacity="0.9"/>
<circle cx="122.19" cy="174.59" r="0.85" fill="#2fa0dc" fill-opacity="0.9"/>
<circle cx="117.09" cy="181.92" r="0.85" fill="#2fa0dc" fill-opacity="0.9"/>
<circle cx="120.21" cy="173.55" r="0.85" fill="#2fa0dc" fill-opacity="0.9"/>
<circle cx="128.64" cy="178.19" r="0.85" fill="#2fa0dc" fill-opacity="0.9"/>
<circle cx="133.75" cy="172.13" r="0.85" fill="#2fa0dc" fill-opacity="0.9"/>
<circle cx="119.29" cy="180.01" r="0.85" fill="#2fa0dc" fill-opacity="0.9"/>
<circle cx="129.54" cy="181.06" r="0.85" fill="#2fa0dc" fill-opacity="0.9"/>
<circle cx="107.13" cy="174.23" r="0.85" fill="#2fa0dc" fill-opacity="0.9"/>
<circle cx="109.34" cy="173.09" r="0.85" fill="#2fa0dc" fill-opacity="0.9"/>
<circle cx="133.24" cy="177.42" r="0.85" fill="#2fa0dc" fill-opacity="0.9"/>
<circle cx="132.04" cy="175.09" r="0.85" fill="#2fa0dc" fill-opacity="0.9"/>
<circle cx="130.25" cy="175.94" r="0.85" fill="#2fa0dc" fill-opacity="0.9"/>
<circle cx="113.28" cy="179.56" r="0.85" fill="#2fa0dc" fill-opacity="0.9"/>
<circle cx="132.48" cy="172.16" r="0.85" fill="#2fa0dc" fill-opacity="0.9"/>
<circle cx="122.69" cy="177.82" r="0.85" fill="#2fa0dc" fill-opacity="0.9"/>
<circle cx="112.09" cy="175.06" r="0.85" fill="#2fa0dc" fill-opacity="0.9"/>
<circle cx="109.96" cy="173.24" r="0.85" fill="#2fa0dc" fill-opacity="0.9"/>
<circle cx="113.14" cy="177.59" r="0.85" fill="#2fa0dc" fill-opacity="0.9"/>
<circle cx="124.25" cy="173.24" r="0.85" fill="#2fa0dc" fill-opacity="0.9"/>
<circle cx="106.32" cy="174.60" r="0.85" fill="#2fa0dc" fill-opacity="0.9"/>
<circle cx="124.99" cy="173.04" r="0.85" fill="#2fa0dc" fill-opacity="0.9"/>
<circle cx="114.74" cy="173.24" r="0.85" fill="#2fa0dc" fill-opacity="0.9"/>
<circle cx="128.27" cy="177.03" r="0.85" fill="#2fa0dc" fill-opacity="0.9"/>
<circle cx="107.77" cy="172.12" r="0.85" fill="#2fa0dc" fill-opacity="0.9"/>
<circle cx="117.07" cy="177.05" r="0.85" fill="#2fa0dc" fill-opacity="0.9"/>
<circle cx="123.90" cy="172.00" r="0.85" fill="#2fa0dc" fill-opacity="0.9"/>
<circle cx="110.58" cy="178.65" r="0.85" fill="#2fa0dc" fill-opacity="0.9"/>
<circle cx="117.47" cy="174.12" r="0.85" fill="#2fa0dc" fill-opacity="0.9"/>
<circle cx="114.61" cy="181.49" r="0.85" fill="#2fa0dc" fill-opacity="0.9"/>
<circle cx="114.75" cy="177.23" r="0.85" fill="#2fa0dc" fill-opacity="0.9"/>
<circle cx="116.00" cy="175.58" r="0.85" fill="#2fa0dc" fill-opacity="0.9"/>
<circle cx="130.20" cy="181.96" r="0.85" fill="#2fa0dc" fill-opacity="0.9"/>
<circle cx="116.19" cy="173.17" r="0.85" fill="#2fa0dc" fill-opacity="0.9"/>
<circle cx="126.38" cy="173.24" r="0.85" fill="#2fa0dc" fill-opacity="0.9"/>
<circle cx="106.16" cy="180.92" r="0.85" fill="#2fa0dc" fill-opacity="0.9"/>
<circle cx="117.87" cy="180.02" r="0.85" fill="#2fa0dc" fill-opacity="0.9"/>
<circle cx="117.37" cy="180.71" r="0.85" fill="#2fa0dc" fill-opacity="0.9"/>
<circle cx="118.91" cy="172.79" r="0.85" fill="#2fa0dc" fill-opacity="0.9"/>
<circle cx="106.42" cy="177.07" r="0.85" fill="#2fa0dc" fill-opacity="0.9"/>
<circle cx="123.94" cy="181.01" r="0.85" fill="#2fa0dc" fill-opacity="0.9"/>
<circle cx="108.49" cy="177.84" r="0.85" fill="#2fa0dc" fill-opacity="0.9"/>
<circle cx="116.38" cy="176.55" r="0.85" fill="#2fa0dc" fill-opacity="0.9"/>
<circle cx="110.08" cy="174.12" r="0.85" fill="#2fa0dc" fill-opacity="0.9"/>
<circle cx="120.59" cy="181.18" r="0.85" fill="#2fa0dc" fill-opacity="0.9"/>
<circle cx="111.96" cy="184.45" r="0.6" fill="#2fa0dc" fill-opacity="0.7"/>
<circle cx="124.49" cy="186.83" r="0.6" fill="#2fa0dc" fill-opacity="0.7"/>
<circle cx="113.55" cy="182.63" r="0.6" fill="#2fa0dc" fill-opacity="0.7"/>
<circle cx="126.98" cy="186.88" r="0.6" fill="#2fa0dc" fill-opacity="0.7"/>
<circle cx="118.69" cy="182.27" r="0.6" fill="#2fa0dc" fill-opacity="0.7"/>
<circle cx="126.67" cy="183.94" r="0.6" fill="#2fa0dc" fill-opacity="0.7"/>
<circle cx="126.28" cy="185.10" r="0.6" fill="#2fa0dc" fill-opacity="0.7"/>
<circle cx="124.84" cy="182.80" r="0.6" fill="#2fa0dc" fill-opacity="0.7"/>
<circle cx="124.14" cy="183.11" r="0.6" fill="#2fa0dc" fill-opacity="0.7"/>
<circle cx="117.28" cy="186.23" r="0.6" fill="#2fa0dc" fill-opacity="0.7"/>
<path d="M120.30,35.90 L120.35,60.00 L120.50,90.00 L120.90,100.00 L121.80,108.00 L123.00,115.00 L124.20,121.00 L125.60,127.00 L128.00,133.00 L131.00,139.00 L134.60,145.00 L137.60,151.00 L139.80,157.00 L141.20,163.00 L141.60,168.00 L141.20,173.00 L140.00,178.00 L138.50,183.00 L137.00,186.50 L135.80,189.00 L133.50,190.30 L120.00,190.50 L120.00,190.50 L106.50,190.30 L104.20,189.00 L103.00,186.50 L101.50,183.00 L100.00,178.00 L98.80,173.00 L98.40,168.00 L98.80,163.00 L100.20,157.00 L102.40,151.00 L105.40,145.00 L109.00,139.00 L112.00,133.00 L114.40,127.00 L115.80,121.00 L117.00,115.00 L118.20,108.00 L119.10,100.00 L119.50,90.00 L119.65,60.00 L119.70,35.90 Z" fill="none" stroke="#333" stroke-width="0.6" stroke-linejoin="round"/>
<rect x="118.0" y="168.3" width="4.2" height="9.8" fill="none" stroke="#111" stroke-width="0.8"/>
<line x1="117.9" y1="169" x2="122.3" y2="169" stroke="#111" stroke-width="1.4"/>
<circle cx="38.4" cy="35.7" r="1.3" fill="none" stroke="#333" stroke-width="0.65"/>
<text x="43.9" y="37.800000000000004" font-size="6" text-anchor="start" fill="#2b2b2b" font-weight="normal" stroke="#2b2b2b" stroke-width="0.08">CK2-Mut</text>
<path d="M38.4,40.63 L39.9,43.330000000000005 L36.9,43.330000000000005 Z" fill="none" stroke="#333" stroke-width="0.65"/>
<text x="43.9" y="44.330000000000005" font-size="6" text-anchor="start" fill="#2b2b2b" font-weight="normal" stroke="#2b2b2b" stroke-width="0.08">CK3-Mut</text>
<path d="M36.8,48.760000000000005 H40.0 M38.4,47.160000000000004 V50.36000000000001" stroke="#333" stroke-width="0.7"/>
<text x="43.9" y="50.86000000000001" font-size="6" text-anchor="start" fill="#2b2b2b" font-weight="normal" stroke="#2b2b2b" stroke-width="0.08">CK4-Mut</text>
<path d="M37.199999999999996,54.09 L39.6,56.49000000000001 M39.6,54.09 L37.199999999999996,56.49000000000001" stroke="#333" stroke-width="0.7"/>
<text x="43.9" y="57.39000000000001" font-size="6" text-anchor="start" fill="#2b2b2b" font-weight="normal" stroke="#2b2b2b" stroke-width="0.08">CK6-Wt</text>
<path d="M38.4,60.120000000000005 L40.1,61.82000000000001 L38.4,63.52000000000001 L36.699999999999996,61.82000000000001 Z" fill="none" stroke="#333" stroke-width="0.65"/>
<text x="43.9" y="63.92000000000001" font-size="6" text-anchor="start" fill="#2b2b2b" font-weight="normal" stroke="#2b2b2b" stroke-width="0.08">CK5-Mut</text>
<path d="M38.4,69.94999999999999 L39.9,67.25 L36.9,67.25 Z" fill="none" stroke="#333" stroke-width="0.65"/>
<text x="43.9" y="70.44999999999999" font-size="6" text-anchor="start" fill="#2b2b2b" font-weight="normal" stroke="#2b2b2b" stroke-width="0.08">CK1-Mut</text>
<rect x="37.1" y="73.58" width="2.6" height="2.6" fill="#333"/>
<text x="43.9" y="76.97999999999999" font-size="6" text-anchor="start" fill="#2b2b2b" font-weight="normal" stroke="#2b2b2b" stroke-width="0.08">CK7-Wt</text>
<circle cx="38.4" cy="81.41" r="1.3" fill="#333"/>
<text x="43.9" y="83.50999999999999" font-size="6" text-anchor="start" fill="#2b2b2b" font-weight="normal" stroke="#2b2b2b" stroke-width="0.08">CK8-Wt</text>
<path d="M38.4,86.14 L40.199999999999996,87.94 L38.4,89.74 L36.6,87.94 Z" fill="#333"/>
<text x="43.9" y="90.03999999999999" font-size="6" text-anchor="start" fill="#2b2b2b" font-weight="normal" stroke="#2b2b2b" stroke-width="0.08">CK9-Wt</text>
<circle cx="38.4" cy="94.47" r="0.95" fill="#333"/>
<text x="43.9" y="96.57" font-size="6" text-anchor="start" fill="#2b2b2b" font-weight="normal" stroke="#2b2b2b" stroke-width="0.08">CK10-Wt</text>
<circle cx="38.4" cy="101.0" r="1.3" fill="none" stroke="#333" stroke-width="0.9"/><path d="M37.1,101.0 H39.699999999999996" stroke="#333" stroke-width="0.6"/>
<text x="43.9" y="103.1" font-size="6" text-anchor="start" fill="#2b2b2b" font-weight="normal" stroke="#2b2b2b" stroke-width="0.08">CK11-Wt</text>
<rect x="199.6" y="29.9" width="148.4" height="165.1" fill="none" stroke="#2a2a2a" stroke-width="1"/>
<line x1="196.6" y1="189.20" x2="199.6" y2="189.20" stroke="#2a2a2a" stroke-width="0.8"/>
<text x="191.6" y="191.29999999999998" font-size="6" text-anchor="middle" fill="#2b2b2b" font-weight="normal" stroke="#2b2b2b" stroke-width="0.08">0</text>
<line x1="196.6" y1="159.15" x2="199.6" y2="159.15" stroke="#2a2a2a" stroke-width="0.8"/>
<text x="191.6" y="161.24999999999997" font-size="6" text-anchor="middle" fill="#2b2b2b" font-weight="normal" stroke="#2b2b2b" stroke-width="0.08">1</text>
<line x1="196.6" y1="129.10" x2="199.6" y2="129.10" stroke="#2a2a2a" stroke-width="0.8"/>
<text x="191.6" y="131.2" font-size="6" text-anchor="middle" fill="#2b2b2b" font-weight="normal" stroke="#2b2b2b" stroke-width="0.08">2</text>
<line x1="196.6" y1="99.05" x2="199.6" y2="99.05" stroke="#2a2a2a" stroke-width="0.8"/>
<text x="191.6" y="101.14999999999998" font-size="6" text-anchor="middle" fill="#2b2b2b" font-weight="normal" stroke="#2b2b2b" stroke-width="0.08">3</text>
<line x1="196.6" y1="69.00" x2="199.6" y2="69.00" stroke="#2a2a2a" stroke-width="0.8"/>
<text x="191.6" y="71.09999999999998" font-size="6" text-anchor="middle" fill="#2b2b2b" font-weight="normal" stroke="#2b2b2b" stroke-width="0.08">4</text>
<line x1="196.6" y1="38.95" x2="199.6" y2="38.95" stroke="#2a2a2a" stroke-width="0.8"/>
<text x="191.6" y="41.04999999999999" font-size="6" text-anchor="middle" fill="#2b2b2b" font-weight="normal" stroke="#2b2b2b" stroke-width="0.08">5</text>
<text x="184.3" y="112.9" font-size="6.5" text-anchor="middle" fill="#2b2b2b" font-weight="normal" transform="rotate(-90 184.3 112.9)" textLength="33.3" lengthAdjust="spacingAndGlyphs" stroke="#2b2b2b" stroke-width="0.18">Copy number</text>
<line x1="199.6" y1="120.08" x2="348" y2="120.08" stroke="#333" stroke-width="0.7" stroke-dasharray="2 1.3"/>
<line x1="199.6" y1="138.11" x2="348" y2="138.11" stroke="#333" stroke-width="0.7" stroke-dasharray="2 1.3"/>
<line x1="308.5" y1="30" x2="308.5" y2="195" stroke="#555" stroke-width="0.6" stroke-dasharray="0.8 1.2"/>
<line x1="221.6" y1="195" x2="221.6" y2="198" stroke="#2a2a2a" stroke-width="0.8"/>
<text x="221.6" y="206.3" font-size="6.2" text-anchor="middle" fill="#2b2b2b" font-weight="normal" stroke="#2b2b2b" stroke-width="0.08">CK-2-M</text>
<text x="221.6" y="214.3" font-size="6.2" text-anchor="middle" fill="#2b2b2b" font-weight="normal" stroke="#2b2b2b" stroke-width="0.08">n = 55</text>
<line x1="256.6" y1="195" x2="256.6" y2="198" stroke="#2a2a2a" stroke-width="0.8"/>
<text x="256.6" y="206.3" font-size="6.2" text-anchor="middle" fill="#2b2b2b" font-weight="normal" stroke="#2b2b2b" stroke-width="0.08">CK-3-M</text>
<text x="256.6" y="214.3" font-size="6.2" text-anchor="middle" fill="#2b2b2b" font-weight="normal" stroke="#2b2b2b" stroke-width="0.08">n = 38</text>
<line x1="291.0" y1="195" x2="291.0" y2="198" stroke="#2a2a2a" stroke-width="0.8"/>
<text x="291.0" y="206.3" font-size="6.2" text-anchor="middle" fill="#2b2b2b" font-weight="normal" stroke="#2b2b2b" stroke-width="0.08">CK-4-M</text>
<text x="291.0" y="214.3" font-size="6.2" text-anchor="middle" fill="#2b2b2b" font-weight="normal" stroke="#2b2b2b" stroke-width="0.08">n = 3</text>
<line x1="326.0" y1="195" x2="326.0" y2="198" stroke="#2a2a2a" stroke-width="0.8"/>
<text x="326.0" y="206.3" font-size="6.2" text-anchor="middle" fill="#2b2b2b" font-weight="normal" stroke="#2b2b2b" stroke-width="0.08">CK-6-W</text>
<text x="326.0" y="214.3" font-size="6.2" text-anchor="middle" fill="#2b2b2b" font-weight="normal" stroke="#2b2b2b" stroke-width="0.08">n = 14</text>
<path d="M227.80,95.50 L227.90,100.00 L228.20,108.00 L228.90,113.00 L230.20,118.00 L231.40,123.00 L232.00,128.00 L231.60,134.00 L231.40,139.00 L232.20,145.00 L233.40,151.00 L233.80,157.00 L233.60,161.00 L232.80,164.00 L221.60,165.00 L221.60,165.00 L210.40,164.00 L209.60,161.00 L209.40,157.00 L209.80,151.00 L211.00,145.00 L211.80,139.00 L211.60,134.00 L211.20,128.00 L211.80,123.00 L213.00,118.00 L214.30,113.00 L215.00,108.00 L215.30,100.00 L215.40,95.50 Z" fill="none" stroke="#333" stroke-width="0.6" stroke-linejoin="round"/>
<line x1="221.6" y1="95.5" x2="221.6" y2="126" stroke="#444" stroke-width="0.6" stroke-dasharray="0.8 1"/>
<line x1="221.6" y1="155" x2="221.6" y2="165" stroke="#444" stroke-width="0.6" stroke-dasharray="0.8 1"/>
<rect x="219.0" y="126" width="5.2" height="29" fill="#fff" stroke="#333" stroke-width="0.6"/>
<line x1="219.0" y1="135" x2="224.2" y2="135" stroke="#111" stroke-width="1.1"/>
<circle cx="217.90" cy="95.80" r="1.35" fill="#c8102e"/>
<circle cx="220.10" cy="94.90" r="1.35" fill="#c8102e"/>
<circle cx="220.50" cy="97.90" r="1.35" fill="#c8102e"/>
<circle cx="223.10" cy="98.40" r="1.35" fill="#c8102e"/>
<circle cx="220.50" cy="100.10" r="1.35" fill="#c8102e"/>
<circle cx="227.00" cy="97.90" r="1.35" fill="#c8102e"/>
<circle cx="227.60" cy="98.80" r="1.35" fill="#c8102e"/>
<circle cx="219.00" cy="96.50" r="1.35" fill="#c8102e"/>
<circle cx="222.00" cy="96.00" r="1.35" fill="#c8102e"/>
<circle cx="224.50" cy="97.00" r="1.35" fill="#c8102e"/>
<circle cx="216.20" cy="107.80" r="1.35" fill="#c8102e"/>
<circle cx="221.00" cy="112.80" r="1.35" fill="#c8102e"/>
<circle cx="226.69" cy="128.10" r="1.1" fill="#a9a9a9" fill-opacity="0.85"/>
<circle cx="218.44" cy="130.60" r="1.1" fill="#a9a9a9" fill-opacity="0.85"/>
<circle cx="222.49" cy="130.41" r="1.1" fill="#a9a9a9" fill-opacity="0.85"/>
<circle cx="217.16" cy="128.84" r="1.1" fill="#a9a9a9" fill-opacity="0.85"/>
<circle cx="225.29" cy="136.32" r="1.1" fill="#a9a9a9" fill-opacity="0.85"/>
<circle cx="216.05" cy="132.47" r="1.1" fill="#a9a9a9" fill-opacity="0.85"/>
<circle cx="225.73" cy="126.44" r="1.1" fill="#a9a9a9" fill-opacity="0.85"/>
<circle cx="226.82" cy="127.35" r="1.1" fill="#a9a9a9" fill-opacity="0.85"/>
<circle cx="223.59" cy="132.33" r="1.1" fill="#a9a9a9" fill-opacity="0.85"/>
<circle cx="223.97" cy="129.52" r="1.1" fill="#a9a9a9" fill-opacity="0.85"/>
<circle cx="221.17" cy="132.70" r="1.1" fill="#a9a9a9" fill-opacity="0.85"/>
<circle cx="221.25" cy="133.58" r="1.1" fill="#a9a9a9" fill-opacity="0.85"/>
<circle cx="221.53" cy="131.04" r="1.1" fill="#a9a9a9" fill-opacity="0.85"/>
<circle cx="215.82" cy="133.12" r="1.1" fill="#a9a9a9" fill-opacity="0.85"/>
<circle cx="222.11" cy="128.71" r="1.1" fill="#a9a9a9" fill-opacity="0.85"/>
<circle cx="225.81" cy="134.97" r="1.1" fill="#a9a9a9" fill-opacity="0.85"/>
<circle cx="221.69" cy="128.07" r="1.1" fill="#a9a9a9" fill-opacity="0.85"/>
<circle cx="221.89" cy="127.23" r="1.1" fill="#a9a9a9" fill-opacity="0.85"/>
<circle cx="217.23" cy="130.95" r="1.1" fill="#a9a9a9" fill-opacity="0.85"/>
<circle cx="216.74" cy="131.08" r="1.1" fill="#a9a9a9" fill-opacity="0.85"/>
<circle cx="221.67" cy="154.93" r="1.2" fill="#2fa0dc" fill-opacity="0.95"/>
<circle cx="223.82" cy="155.36" r="1.2" fill="#2fa0dc" fill-opacity="0.95"/>
<circle cx="225.47" cy="162.67" r="1.2" fill="#2fa0dc" fill-opacity="0.95"/>
<circle cx="221.70" cy="155.07" r="1.2" fill="#2fa0dc" fill-opacity="0.95"/>
<circle cx="221.57" cy="158.47" r="1.2" fill="#2fa0dc" fill-opacity="0.95"/>
<circle cx="229.16" cy="155.93" r="1.2" fill="#2fa0dc" fill-opacity="0.95"/>
<circle cx="227.57" cy="164.96" r="1.2" fill="#2fa0dc" fill-opacity="0.95"/>
<circle cx="225.45" cy="163.06" r="1.2" fill="#2fa0dc" fill-opacity="0.95"/>
<circle cx="216.29" cy="164.81" r="1.2" fill="#2fa0dc" fill-opacity="0.95"/>
<circle cx="221.36" cy="164.54" r="1.2" fill="#2fa0dc" fill-opacity="0.95"/>
<circle cx="228.57" cy="156.23" r="1.2" fill="#2fa0dc" fill-opacity="0.95"/>
<circle cx="226.40" cy="164.27" r="1.2" fill="#2fa0dc" fill-opacity="0.95"/>
<circle cx="214.11" cy="158.18" r="1.2" fill="#2fa0dc" fill-opacity="0.95"/>
<circle cx="225.86" cy="156.17" r="1.2" fill="#2fa0dc" fill-opacity="0.95"/>
<circle cx="228.24" cy="157.39" r="1.2" fill="#2fa0dc" fill-opacity="0.95"/>
<circle cx="226.87" cy="156.01" r="1.2" fill="#2fa0dc" fill-opacity="0.95"/>
<circle cx="221.54" cy="164.16" r="1.2" fill="#2fa0dc" fill-opacity="0.95"/>
<circle cx="216.54" cy="157.26" r="1.2" fill="#2fa0dc" fill-opacity="0.95"/>
<circle cx="221.60" cy="157.85" r="1.2" fill="#2fa0dc" fill-opacity="0.95"/>
<circle cx="213.63" cy="156.41" r="1.2" fill="#2fa0dc" fill-opacity="0.95"/>
<circle cx="215.74" cy="164.33" r="1.2" fill="#2fa0dc" fill-opacity="0.95"/>
<circle cx="224.55" cy="163.90" r="1.2" fill="#2fa0dc" fill-opacity="0.95"/>
<circle cx="215.87" cy="162.74" r="1.2" fill="#2fa0dc" fill-opacity="0.95"/>
<circle cx="214.96" cy="160.07" r="1.2" fill="#2fa0dc" fill-opacity="0.95"/>
<circle cx="223.82" cy="158.28" r="1.2" fill="#2fa0dc" fill-opacity="0.95"/>
<circle cx="227.84" cy="160.33" r="1.2" fill="#2fa0dc" fill-opacity="0.95"/>
<circle cx="225.51" cy="151.59" r="1.2" fill="#2fa0dc" fill-opacity="0.95"/>
<circle cx="220.99" cy="152.92" r="1.2" fill="#2fa0dc" fill-opacity="0.95"/>
<circle cx="225.98" cy="145.73" r="1.2" fill="#2fa0dc" fill-opacity="0.95"/>
<circle cx="227.58" cy="144.18" r="1.2" fill="#2fa0dc" fill-opacity="0.95"/>
<circle cx="229.41" cy="147.93" r="1.2" fill="#2fa0dc" fill-opacity="0.95"/>
<circle cx="223.42" cy="150.18" r="1.2" fill="#2fa0dc" fill-opacity="0.95"/>
<circle cx="224.20" cy="143.12" r="1.2" fill="#2fa0dc" fill-opacity="0.95"/>
<circle cx="227.06" cy="141.58" r="1.2" fill="#2fa0dc" fill-opacity="0.95"/>
<path d="M258.60,98.70 L258.60,104.00 L258.70,110.00 L259.20,113.00 L261.10,117.00 L264.60,122.00 L267.60,127.00 L269.20,131.60 L268.40,137.00 L267.60,142.60 L268.60,147.00 L269.40,151.50 L269.40,156.00 L268.60,159.00 L256.60,159.60 L256.60,159.60 L244.60,159.00 L243.80,156.00 L243.80,151.50 L244.60,147.00 L245.60,142.60 L244.80,137.00 L244.00,131.60 L245.60,127.00 L248.60,122.00 L252.10,117.00 L254.00,113.00 L254.50,110.00 L254.60,104.00 L254.60,98.70 Z" fill="none" stroke="#333" stroke-width="0.6" stroke-linejoin="round"/>
<line x1="256.6" y1="113" x2="256.6" y2="133" stroke="#444" stroke-width="0.6" stroke-dasharray="0.8 1"/>
<line x1="256.6" y1="156" x2="256.6" y2="159.5" stroke="#444" stroke-width="0.6" stroke-dasharray="0.8 1"/>
<rect x="254.20000000000002" y="132.7" width="4.8" height="23.3" fill="#fff" stroke="#333" stroke-width="0.6"/>
<line x1="254.20000000000002" y1="135.5" x2="259.0" y2="135.5" stroke="#111" stroke-width="1.1"/>
<circle cx="262.50" cy="98.70" r="1.35" fill="#c8102e"/>
<circle cx="258.50" cy="116.50" r="1.35" fill="#c8102e"/>
<circle cx="261.12" cy="129.79" r="1.1" fill="#a9a9a9" fill-opacity="0.85"/>
<circle cx="258.23" cy="137.82" r="1.1" fill="#a9a9a9" fill-opacity="0.85"/>
<circle cx="257.37" cy="134.30" r="1.1" fill="#a9a9a9" fill-opacity="0.85"/>
<circle cx="253.00" cy="127.02" r="1.1" fill="#a9a9a9" fill-opacity="0.85"/>
<circle cx="248.54" cy="128.64" r="1.1" fill="#a9a9a9" fill-opacity="0.85"/>
<circle cx="257.86" cy="131.75" r="1.1" fill="#a9a9a9" fill-opacity="0.85"/>
<circle cx="256.20" cy="136.85" r="1.1" fill="#a9a9a9" fill-opacity="0.85"/>
<circle cx="250.11" cy="129.50" r="1.1" fill="#a9a9a9" fill-opacity="0.85"/>
<circle cx="258.45" cy="127.25" r="1.1" fill="#a9a9a9" fill-opacity="0.85"/>
<circle cx="248.04" cy="130.90" r="1.1" fill="#a9a9a9" fill-opacity="0.85"/>
<circle cx="249.70" cy="130.93" r="1.1" fill="#a9a9a9" fill-opacity="0.85"/>
<circle cx="251.59" cy="133.42" r="1.1" fill="#a9a9a9" fill-opacity="0.85"/>
<circle cx="257.43" cy="129.25" r="1.1" fill="#a9a9a9" fill-opacity="0.85"/>
<circle cx="257.98" cy="132.22" r="1.1" fill="#a9a9a9" fill-opacity="0.85"/>
<circle cx="250.16" cy="137.30" r="1.1" fill="#a9a9a9" fill-opacity="0.85"/>
<circle cx="251.90" cy="128.64" r="1.1" fill="#a9a9a9" fill-opacity="0.85"/>
<circle cx="249.63" cy="156.12" r="1.2" fill="#2fa0dc" fill-opacity="0.95"/>
<circle cx="262.81" cy="158.06" r="1.2" fill="#2fa0dc" fill-opacity="0.95"/>
<circle cx="254.83" cy="151.07" r="1.2" fill="#2fa0dc" fill-opacity="0.95"/>
<circle cx="248.20" cy="156.21" r="1.2" fill="#2fa0dc" fill-opacity="0.95"/>
<circle cx="257.56" cy="152.23" r="1.2" fill="#2fa0dc" fill-opacity="0.95"/>
<circle cx="258.98" cy="153.49" r="1.2" fill="#2fa0dc" fill-opacity="0.95"/>
<circle cx="263.93" cy="157.40" r="1.2" fill="#2fa0dc" fill-opacity="0.95"/>
<circle cx="252.22" cy="159.70" r="1.2" fill="#2fa0dc" fill-opacity="0.95"/>
<circle cx="248.75" cy="154.68" r="1.2" fill="#2fa0dc" fill-opacity="0.95"/>
<circle cx="254.90" cy="150.71" r="1.2" fill="#2fa0dc" fill-opacity="0.95"/>
<circle cx="248.99" cy="158.01" r="1.2" fill="#2fa0dc" fill-opacity="0.95"/>
<circle cx="248.21" cy="154.94" r="1.2" fill="#2fa0dc" fill-opacity="0.95"/>
<circle cx="264.00" cy="149.42" r="1.2" fill="#2fa0dc" fill-opacity="0.95"/>
<circle cx="251.39" cy="155.71" r="1.2" fill="#2fa0dc" fill-opacity="0.95"/>
<circle cx="256.62" cy="156.16" r="1.2" fill="#2fa0dc" fill-opacity="0.95"/>
<circle cx="261.83" cy="149.86" r="1.2" fill="#2fa0dc" fill-opacity="0.95"/>
<circle cx="253.26" cy="151.55" r="1.2" fill="#2fa0dc" fill-opacity="0.95"/>
<circle cx="248.82" cy="159.51" r="1.2" fill="#2fa0dc" fill-opacity="0.95"/>
<circle cx="261.31" cy="157.16" r="1.2" fill="#2fa0dc" fill-opacity="0.95"/>
<circle cx="248.11" cy="158.90" r="1.2" fill="#2fa0dc" fill-opacity="0.95"/>
<circle cx="260.67" cy="153.78" r="1.2" fill="#2fa0dc" fill-opacity="0.95"/>
<circle cx="260.61" cy="153.61" r="1.2" fill="#2fa0dc" fill-opacity="0.95"/>
<circle cx="251.84" cy="148.92" r="1.2" fill="#2fa0dc" fill-opacity="0.95"/>
<circle cx="251.95" cy="148.02" r="1.2" fill="#2fa0dc" fill-opacity="0.95"/>
<path d="M291.80,56.20 L293.00,57.00 L293.40,60.00 L295.40,80.00 L297.60,100.00 L300.00,120.00 L302.40,140.00 L303.80,152.00 L303.60,158.00 L302.80,163.50 L290.80,164.00 L290.80,164.00 L278.80,163.50 L278.00,158.00 L277.80,152.00 L279.20,140.00 L281.60,120.00 L284.00,100.00 L286.20,80.00 L288.20,60.00 L288.60,57.00 L289.80,56.20 Z" fill="none" stroke="#333" stroke-width="0.6" stroke-linejoin="round"/>
<line x1="290.8" y1="58" x2="290.8" y2="99.2" stroke="#444" stroke-width="0.6" stroke-dasharray="0.8 1"/>
<rect x="288.40000000000003" y="99.2" width="4.8" height="58.5" fill="#fff" stroke="#333" stroke-width="0.6" rx="1"/>
<line x1="288.40000000000003" y1="130" x2="293.2" y2="130" stroke="#111" stroke-width="1.1"/>
<circle cx="288.50" cy="99.00" r="1.35" fill="#c8102e"/>
<circle cx="287.00" cy="158.00" r="1.2" fill="#2fa0dc"/>
<circle cx="287.00" cy="129.50" r="1.1" fill="#a9a9a9"/>
<path d="M336.80,98.30 L337.00,99.00 L338.10,105.00 L339.10,115.00 L339.60,127.00 L339.10,140.00 L338.00,150.00 L337.20,157.00 L337.10,158.30 L325.80,158.40 L325.80,158.40 L314.50,158.30 L314.40,157.00 L313.60,150.00 L312.50,140.00 L312.00,127.00 L312.50,115.00 L313.50,105.00 L314.60,99.00 L314.80,98.30 Z" fill="none" stroke="#333" stroke-width="0.6" stroke-linejoin="round"/>
<line x1="325.8" y1="99" x2="325.8" y2="114" stroke="#444" stroke-width="0.6" stroke-dasharray="0.8 1"/>
<line x1="325.8" y1="143" x2="325.8" y2="158.3" stroke="#444" stroke-width="0.6" stroke-dasharray="0.8 1"/>
<rect x="323.40000000000003" y="114" width="4.8" height="29" fill="#fff" stroke="#333" stroke-width="0.6" rx="1.5"/>
<line x1="323.40000000000003" y1="129" x2="328.2" y2="129" stroke="#111" stroke-width="1.1"/>
<circle cx="326.50" cy="56.50" r="1.35" fill="#c8102e"/>
<circle cx="323.50" cy="99.50" r="1.35" fill="#c8102e"/>
<circle cx="325.50" cy="100.50" r="1.35" fill="#c8102e"/>
<circle cx="327.50" cy="99.00" r="1.35" fill="#c8102e"/>
<circle cx="329.50" cy="98.80" r="1.35" fill="#c8102e"/>
<circle cx="320.00" cy="158.30" r="1.2" fill="#2fa0dc"/>
<circle cx="326.00" cy="158.30" r="1.2" fill="#2fa0dc"/>
<circle cx="333.00" cy="158.30" r="1.2" fill="#2fa0dc"/>
<circle cx="323.50" cy="164.30" r="1.2" fill="#2fa0dc"/>
<circle cx="332.00" cy="164.80" r="1.2" fill="#2fa0dc"/>
<circle cx="331.00" cy="129.00" r="1.1" fill="#a9a9a9"/>
<circle cx="320.50" cy="131.00" r="1.1" fill="#a9a9a9"/>
<line x1="398" y1="32" x2="398" y2="193.4" stroke="#2a2a2a" stroke-width="1.3"/>
<line x1="397.3" y1="193.2" x2="513.3" y2="193.2" stroke="#2a2a2a" stroke-width="1.1"/>
<line x1="394.6" y1="74.50" x2="397.8" y2="74.50" stroke="#2a2a2a" stroke-width="0.8"/>
<text x="391.8" y="76.6" font-size="6.2" text-anchor="end" fill="#2b2b2b" font-weight="normal" stroke="#2b2b2b" stroke-width="0.08">0.5</text>
<line x1="394.6" y1="119.50" x2="397.8" y2="119.50" stroke="#2a2a2a" stroke-width="0.8"/>
<text x="391.8" y="121.6" font-size="6.2" text-anchor="end" fill="#2b2b2b" font-weight="normal" stroke="#2b2b2b" stroke-width="0.08">0.0</text>
<line x1="394.6" y1="164.50" x2="397.8" y2="164.50" stroke="#2a2a2a" stroke-width="0.8"/>
<text x="391.8" y="166.6" font-size="6.2" text-anchor="end" fill="#2b2b2b" font-weight="normal" stroke="#2b2b2b" stroke-width="0.08">−0.5</text>
<text x="374.0" y="112.5" font-size="6.3" text-anchor="middle" fill="#2b2b2b" font-weight="normal" transform="rotate(-90 374.0 112.5)" textLength="66.5" lengthAdjust="spacingAndGlyphs" stroke="#2b2b2b" stroke-width="0.18">Log2 (observed/expected)</text>
<rect x="401" y="40.30" width="17" height="79.20" fill="#c8102e"/>
<text x="409.5" y="38.699999999999996" font-size="6" text-anchor="middle" fill="#2b2b2b" font-weight="normal" stroke="#2b2b2b" stroke-width="0.08">0.88</text>
<line x1="409.50" y1="193.2" x2="409.50" y2="196" stroke="#2a2a2a" stroke-width="0.8"/>
<text x="411.90" y="203.20" font-size="6" text-anchor="end" fill="#2b2b2b" font-weight="normal" transform="rotate(-45 411.90 203.20)" stroke="#2b2b2b" stroke-width="0.08">Promoter</text>
<rect x="420" y="63.70" width="16.5" height="55.80" fill="#c8102e"/>
<text x="428.25" y="62.1" font-size="6" text-anchor="middle" fill="#2b2b2b" font-weight="normal" stroke="#2b2b2b" stroke-width="0.08">0.62</text>
<line x1="428.25" y1="193.2" x2="428.25" y2="196" stroke="#2a2a2a" stroke-width="0.8"/>
<text x="430.65" y="203.20" font-size="6" text-anchor="end" fill="#2b2b2b" font-weight="normal" transform="rotate(-45 430.65 203.20)" stroke="#2b2b2b" stroke-width="0.08">3'Utr</text>
<rect x="438.4" y="101.50" width="16.5" height="18.00" fill="#c8102e"/>
<text x="446.65" y="99.9" font-size="6" text-anchor="middle" fill="#2b2b2b" font-weight="normal" stroke="#2b2b2b" stroke-width="0.08">0.20</text>
<line x1="446.65" y1="193.2" x2="446.65" y2="196" stroke="#2a2a2a" stroke-width="0.8"/>
<text x="449.05" y="203.20" font-size="6" text-anchor="end" fill="#2b2b2b" font-weight="normal" transform="rotate(-45 449.05 203.20)" stroke="#2b2b2b" stroke-width="0.08">Intron</text>
<line x1="465.25" y1="193.2" x2="465.25" y2="196" stroke="#2a2a2a" stroke-width="0.8"/>
<text x="467.65" y="203.20" font-size="6" text-anchor="end" fill="#2b2b2b" font-weight="normal" transform="rotate(-45 467.65 203.20)" stroke="#2b2b2b" stroke-width="0.08">Exon</text>
<rect x="475.8" y="119.8" width="16.19999999999999" height="34.80" fill="#2fa0dc"/>
<text x="483.9" y="161.4" font-size="6" text-anchor="middle" fill="#2b2b2b" font-weight="normal" stroke="#2b2b2b" stroke-width="0.08">−0.39</text>
<line x1="483.90" y1="193.2" x2="483.90" y2="196" stroke="#2a2a2a" stroke-width="0.8"/>
<text x="486.30" y="203.20" font-size="6" text-anchor="end" fill="#2b2b2b" font-weight="normal" transform="rotate(-45 486.30 203.20)" stroke="#2b2b2b" stroke-width="0.08">5'Utr</text>
<rect x="494.5" y="119.8" width="16.5" height="60.00" fill="#2fa0dc"/>
<text x="502.75" y="186.60000000000002" font-size="6" text-anchor="middle" fill="#2b2b2b" font-weight="normal" stroke="#2b2b2b" stroke-width="0.08">−0.67</text>
<line x1="502.75" y1="193.2" x2="502.75" y2="196" stroke="#2a2a2a" stroke-width="0.8"/>
<text x="505.15" y="203.20" font-size="6" text-anchor="end" fill="#2b2b2b" font-weight="normal" transform="rotate(-45 505.15 203.20)" stroke="#2b2b2b" stroke-width="0.08">Intergenic</text>
<g filter="url(#hb)">
<rect x="28.10" y="253.80" width="8.28" height="47.25" fill="#f3cacd"/>
<rect x="28.10" y="301.00" width="8.28" height="11.05" fill="#f7dadd"/>
<rect x="28.10" y="312.00" width="8.28" height="29.05" fill="#f4cfd2"/>
<rect x="28.10" y="341.00" width="8.28" height="20.85" fill="#fae6e8"/>
<rect x="36.33" y="253.80" width="8.28" height="54.25" fill="#fae6e8"/>
<rect x="36.33" y="308.00" width="8.28" height="15.05" fill="#f7dadd"/>
<rect x="36.33" y="323.00" width="8.28" height="38.85" fill="#fcecee"/>
<rect x="44.57" y="253.80" width="8.28" height="34.25" fill="#efbec1"/>
<rect x="44.57" y="288.00" width="8.28" height="20.05" fill="#efbec1"/>
<rect x="44.57" y="308.00" width="8.28" height="50.05" fill="#ebafb3"/>
<rect x="44.57" y="358.00" width="8.28" height="3.85" fill="#fae6e8"/>
<rect x="52.80" y="253.80" width="8.28" height="54.25" fill="#fae6e8"/>
<rect x="52.80" y="308.00" width="8.28" height="9.05" fill="#f7dadd"/>
<rect x="52.80" y="317.00" width="8.28" height="7.05" fill="#de868e"/>
<rect x="52.80" y="324.00" width="8.28" height="37.85" fill="#fcecee"/>
<rect x="61.04" y="253.80" width="8.28" height="34.25" fill="#edb6ba"/>
<rect x="61.04" y="288.00" width="8.28" height="35.05" fill="#f0c2c6"/>
<rect x="61.04" y="323.00" width="8.28" height="38.85" fill="#fae6e8"/>
<rect x="69.27" y="253.80" width="8.28" height="34.25" fill="#eebbbf"/>
<rect x="69.27" y="288.00" width="8.28" height="20.05" fill="#ebafb3"/>
<rect x="69.27" y="308.00" width="8.28" height="15.05" fill="#f0c0c4"/>
<rect x="69.27" y="323.00" width="8.28" height="38.85" fill="#f9e4e6"/>
<rect x="77.51" y="253.80" width="8.28" height="54.25" fill="#fae6e8"/>
<rect x="77.51" y="308.00" width="8.28" height="15.05" fill="#f0c2c6"/>
<rect x="77.51" y="323.00" width="8.28" height="38.85" fill="#fbe9ea"/>
<rect x="85.74" y="253.80" width="8.28" height="34.25" fill="#f0c2c6"/>
<rect x="85.74" y="288.00" width="8.28" height="35.05" fill="#f0c0c4"/>
<rect x="85.74" y="323.00" width="8.28" height="38.85" fill="#f8dfe1"/>
<rect x="93.98" y="253.80" width="8.28" height="34.25" fill="#f6d6d9"/>
<rect x="93.98" y="288.00" width="8.28" height="30.05" fill="#f0c2c6"/>
<rect x="93.98" y="318.00" width="8.28" height="34.05" fill="#e4979d"/>
<rect x="93.98" y="352.00" width="8.28" height="9.85" fill="#fae6e8"/>
<rect x="102.21" y="253.80" width="8.28" height="50.25" fill="#fefbfc"/>
<rect x="102.21" y="304.00" width="8.28" height="19.05" fill="#fbe9ea"/>
<rect x="102.21" y="323.00" width="8.28" height="38.85" fill="#fcecee"/>
<rect x="110.45" y="253.80" width="8.28" height="54.25" fill="#fffdfd"/>
<rect x="110.45" y="308.00" width="8.28" height="33.05" fill="#f7dadd"/>
<rect x="110.45" y="341.00" width="8.28" height="20.85" fill="#fef7f7"/>
<rect x="118.68" y="253.80" width="8.28" height="58.25" fill="#fefbfc"/>
<rect x="118.68" y="312.00" width="8.28" height="49.85" fill="#f9e1e4"/>
<rect x="126.92" y="253.80" width="8.28" height="56.25" fill="#efbec1"/>
<rect x="126.92" y="310.00" width="8.28" height="9.05" fill="#e9a8ad"/>
<rect x="126.92" y="319.00" width="8.28" height="24.05" fill="#e19097"/>
<rect x="126.92" y="343.00" width="8.28" height="18.85" fill="#f0c2c6"/>
<rect x="135.15" y="253.80" width="8.28" height="56.25" fill="#f7dadd"/>
<rect x="135.15" y="310.00" width="8.28" height="12.05" fill="#f9e1e4"/>
<rect x="135.15" y="322.00" width="8.28" height="28.05" fill="#fae6e8"/>
<rect x="135.15" y="350.00" width="8.28" height="11.85" fill="#fdf3f4"/>
<rect x="143.39" y="253.80" width="8.28" height="46.25" fill="#f6d6d9"/>
<rect x="143.39" y="300.00" width="8.28" height="61.85" fill="#f7dadd"/>
<rect x="151.62" y="253.80" width="8.28" height="50.25" fill="#fae6e8"/>
<rect x="151.62" y="304.00" width="8.28" height="57.85" fill="#f7dadd"/>
<rect x="159.86" y="253.80" width="8.28" height="70.25" fill="#fae6e8"/>
<rect x="159.86" y="324.00" width="8.28" height="16.05" fill="#f4cfd2"/>
<rect x="159.86" y="340.00" width="8.28" height="21.85" fill="#f0c0c4"/>
<rect x="168.09" y="253.80" width="8.28" height="26.25" fill="#ecb1b6"/>
<rect x="168.09" y="280.00" width="8.28" height="20.05" fill="#e499a0"/>
<rect x="168.09" y="300.00" width="8.28" height="8.05" fill="#de868e"/>
<rect x="168.09" y="308.00" width="8.28" height="9.05" fill="#ce626c"/>
<rect x="168.09" y="317.00" width="8.28" height="12.05" fill="#be4552"/>
<rect x="168.09" y="329.00" width="8.28" height="32.85" fill="#c44f5b"/>
<rect x="176.33" y="253.80" width="8.28" height="68.25" fill="#fae6e8"/>
<rect x="176.33" y="322.00" width="8.28" height="39.85" fill="#f8dfe1"/>
<rect x="184.56" y="253.80" width="8.28" height="36.25" fill="#ecb1b6"/>
<rect x="184.56" y="290.00" width="8.28" height="15.05" fill="#ebafb3"/>
<rect x="184.56" y="305.00" width="8.28" height="15.05" fill="#f0c0c4"/>
<rect x="184.56" y="320.00" width="8.28" height="41.85" fill="#f7dadd"/>
<rect x="192.80" y="253.80" width="8.28" height="46.25" fill="#fae6e8"/>
<rect x="192.80" y="300.00" width="8.28" height="61.85" fill="#f8dfe1"/>
<rect x="201.03" y="253.80" width="8.28" height="46.25" fill="#fdf3f4"/>
<rect x="201.03" y="300.00" width="8.28" height="40.05" fill="#fbe9ea"/>
<rect x="201.03" y="340.00" width="8.28" height="21.85" fill="#fdf5f6"/>
<rect x="209.27" y="253.80" width="8.28" height="46.25" fill="#fef9fa"/>
<rect x="209.27" y="300.00" width="8.28" height="22.05" fill="#fceff0"/>
<rect x="209.27" y="322.00" width="8.28" height="39.85" fill="#f7dadd"/>
</g>
<rect x="28.1" y="253.8" width="189.4" height="108.0" fill="none" stroke="#1a1a1a" stroke-width="1.1"/>
<line x1="32.22" y1="361.8" x2="32.22" y2="364.8" stroke="#2a2a2a" stroke-width="0.8"/>
<text x="34.52" y="369.20" font-size="6.6" text-anchor="end" fill="#2b2b2b" font-weight="normal" transform="rotate(-90 34.52 369.20)" textLength="14.51" lengthAdjust="spacingAndGlyphs" stroke="#2b2b2b" stroke-width="0.12">AluJb</text>
<line x1="40.45" y1="361.8" x2="40.45" y2="364.8" stroke="#2a2a2a" stroke-width="0.8"/>
<text x="42.75" y="369.20" font-size="6.6" text-anchor="end" fill="#2b2b2b" font-weight="normal" transform="rotate(-90 42.75 369.20)" textLength="14.51" lengthAdjust="spacingAndGlyphs" stroke="#2b2b2b" stroke-width="0.12">AluJo</text>
<line x1="48.69" y1="361.8" x2="48.69" y2="364.8" stroke="#2a2a2a" stroke-width="0.8"/>
<text x="50.99" y="369.20" font-size="6.6" text-anchor="end" fill="#2b2b2b" font-weight="normal" transform="rotate(-90 50.99 369.20)" textLength="13.21" lengthAdjust="spacingAndGlyphs" stroke="#2b2b2b" stroke-width="0.12">AluJr</text>
<line x1="56.92" y1="361.8" x2="56.92" y2="364.8" stroke="#2a2a2a" stroke-width="0.8"/>
<text x="59.22" y="369.20" font-size="6.6" text-anchor="end" fill="#2b2b2b" font-weight="normal" transform="rotate(-90 59.22 369.20)" textLength="18.7" lengthAdjust="spacingAndGlyphs" stroke="#2b2b2b" stroke-width="0.12">AluSq2</text>
<line x1="65.16" y1="361.8" x2="65.16" y2="364.8" stroke="#2a2a2a" stroke-width="0.8"/>
<text x="67.46" y="369.20" font-size="6.6" text-anchor="end" fill="#2b2b2b" font-weight="normal" transform="rotate(-90 67.46 369.20)" textLength="15.15" lengthAdjust="spacingAndGlyphs" stroke="#2b2b2b" stroke-width="0.12">AluSx</text>
<line x1="73.39" y1="361.8" x2="73.39" y2="364.8" stroke="#2a2a2a" stroke-width="0.8"/>
<text x="75.69" y="369.20" font-size="6.6" text-anchor="end" fill="#2b2b2b" font-weight="normal" transform="rotate(-90 75.69 369.20)" textLength="18.38" lengthAdjust="spacingAndGlyphs" stroke="#2b2b2b" stroke-width="0.12">AluSx1</text>
<line x1="81.63" y1="361.8" x2="81.63" y2="364.8" stroke="#2a2a2a" stroke-width="0.8"/>
<text x="83.93" y="369.20" font-size="6.6" text-anchor="end" fill="#2b2b2b" font-weight="normal" transform="rotate(-90 83.93 369.20)" textLength="18.38" lengthAdjust="spacingAndGlyphs" stroke="#2b2b2b" stroke-width="0.12">AluSx3</text>
<line x1="89.86" y1="361.8" x2="89.86" y2="364.8" stroke="#2a2a2a" stroke-width="0.8"/>
<text x="92.16" y="369.20" font-size="6.6" text-anchor="end" fill="#2b2b2b" font-weight="normal" transform="rotate(-90 92.16 369.20)" textLength="15.15" lengthAdjust="spacingAndGlyphs" stroke="#2b2b2b" stroke-width="0.12">AluSz</text>
<line x1="98.10" y1="361.8" x2="98.10" y2="364.8" stroke="#2a2a2a" stroke-width="0.8"/>
<text x="100.40" y="369.20" font-size="6.6" text-anchor="end" fill="#2b2b2b" font-weight="normal" transform="rotate(-90 100.40 369.20)" textLength="12.25" lengthAdjust="spacingAndGlyphs" stroke="#2b2b2b" stroke-width="0.12">AluY</text>
<line x1="106.33" y1="361.8" x2="106.33" y2="364.8" stroke="#2a2a2a" stroke-width="0.8"/>
<text x="108.63" y="369.20" font-size="6.6" text-anchor="end" fill="#2b2b2b" font-weight="normal" transform="rotate(-90 108.63 369.20)" textLength="13.54" lengthAdjust="spacingAndGlyphs" stroke="#2b2b2b" stroke-width="0.12">L1P3</text>
<line x1="114.57" y1="361.8" x2="114.57" y2="364.8" stroke="#2a2a2a" stroke-width="0.8"/>
<text x="116.87" y="369.20" font-size="6.6" text-anchor="end" fill="#2b2b2b" font-weight="normal" transform="rotate(-90 116.87 369.20)" textLength="16.98" lengthAdjust="spacingAndGlyphs" stroke="#2b2b2b" stroke-width="0.12">L1PA7</text>
<line x1="122.80" y1="361.8" x2="122.80" y2="364.8" stroke="#2a2a2a" stroke-width="0.8"/>
<text x="125.10" y="369.20" font-size="6.6" text-anchor="end" fill="#2b2b2b" font-weight="normal" transform="rotate(-90 125.10 369.20)" textLength="17.41" lengthAdjust="spacingAndGlyphs" stroke="#2b2b2b" stroke-width="0.12">L1PB1</text>
<line x1="131.03" y1="361.8" x2="131.03" y2="364.8" stroke="#2a2a2a" stroke-width="0.8"/>
<text x="133.33" y="369.20" font-size="6.6" text-anchor="end" fill="#2b2b2b" font-weight="normal" transform="rotate(-90 133.33 369.20)" textLength="9.68" lengthAdjust="spacingAndGlyphs" stroke="#2b2b2b" stroke-width="0.12">L2a</text>
<line x1="139.27" y1="361.8" x2="139.27" y2="364.8" stroke="#2a2a2a" stroke-width="0.8"/>
<text x="141.57" y="369.20" font-size="6.6" text-anchor="end" fill="#2b2b2b" font-weight="normal" transform="rotate(-90 141.57 369.20)" textLength="9.68" lengthAdjust="spacingAndGlyphs" stroke="#2b2b2b" stroke-width="0.12">L2b</text>
<line x1="147.50" y1="361.8" x2="147.50" y2="364.8" stroke="#2a2a2a" stroke-width="0.8"/>
<text x="149.80" y="369.20" font-size="6.6" text-anchor="end" fill="#2b2b2b" font-weight="normal" transform="rotate(-90 149.80 369.20)" textLength="9.35" lengthAdjust="spacingAndGlyphs" stroke="#2b2b2b" stroke-width="0.12">L2c</text>
<line x1="155.74" y1="361.8" x2="155.74" y2="364.8" stroke="#2a2a2a" stroke-width="0.8"/>
<text x="158.04" y="369.20" font-size="6.6" text-anchor="end" fill="#2b2b2b" font-weight="normal" transform="rotate(-90 158.04 369.20)" textLength="6.45" lengthAdjust="spacingAndGlyphs" stroke="#2b2b2b" stroke-width="0.12">L3</text>
<line x1="163.97" y1="361.8" x2="163.97" y2="364.8" stroke="#2a2a2a" stroke-width="0.8"/>
<text x="166.27" y="369.20" font-size="6.6" text-anchor="end" fill="#2b2b2b" font-weight="normal" transform="rotate(-90 166.27 369.20)" textLength="19.98" lengthAdjust="spacingAndGlyphs" stroke="#2b2b2b" stroke-width="0.12">MER5A</text>
<line x1="172.21" y1="361.8" x2="172.21" y2="364.8" stroke="#2a2a2a" stroke-width="0.8"/>
<text x="174.51" y="369.20" font-size="6.6" text-anchor="end" fill="#2b2b2b" font-weight="normal" transform="rotate(-90 174.51 369.20)" textLength="10.63" lengthAdjust="spacingAndGlyphs" stroke="#2b2b2b" stroke-width="0.12">MIR</text>
<line x1="180.44" y1="361.8" x2="180.44" y2="364.8" stroke="#2a2a2a" stroke-width="0.8"/>
<text x="182.74" y="369.20" font-size="6.6" text-anchor="end" fill="#2b2b2b" font-weight="normal" transform="rotate(-90 182.74 369.20)" textLength="13.86" lengthAdjust="spacingAndGlyphs" stroke="#2b2b2b" stroke-width="0.12">MIR3</text>
<line x1="188.68" y1="361.8" x2="188.68" y2="364.8" stroke="#2a2a2a" stroke-width="0.8"/>
<text x="190.98" y="369.20" font-size="6.6" text-anchor="end" fill="#2b2b2b" font-weight="normal" transform="rotate(-90 190.98 369.20)" textLength="13.86" lengthAdjust="spacingAndGlyphs" stroke="#2b2b2b" stroke-width="0.12">MIRb</text>
<line x1="196.91" y1="361.8" x2="196.91" y2="364.8" stroke="#2a2a2a" stroke-width="0.8"/>
<text x="199.21" y="369.20" font-size="6.6" text-anchor="end" fill="#2b2b2b" font-weight="normal" transform="rotate(-90 199.21 369.20)" textLength="13.53" lengthAdjust="spacingAndGlyphs" stroke="#2b2b2b" stroke-width="0.12">MIRc</text>
<line x1="205.15" y1="361.8" x2="205.15" y2="364.8" stroke="#2a2a2a" stroke-width="0.8"/>
<text x="207.45" y="369.20" font-size="6.6" text-anchor="end" fill="#2b2b2b" font-weight="normal" transform="rotate(-90 207.45 369.20)" textLength="18.58" lengthAdjust="spacingAndGlyphs" stroke="#2b2b2b" stroke-width="0.12">MLT1D</text>
<line x1="213.38" y1="361.8" x2="213.38" y2="364.8" stroke="#2a2a2a" stroke-width="0.8"/>
<text x="215.68" y="369.20" font-size="6.6" text-anchor="end" fill="#2b2b2b" font-weight="normal" transform="rotate(-90 215.68 369.20)" textLength="22.13" lengthAdjust="spacingAndGlyphs" stroke="#2b2b2b" stroke-width="0.12">MLT1G1</text>
<line x1="25.1" y1="345.10" x2="28.1" y2="345.10" stroke="#2a2a2a" stroke-width="0.8"/>
<text x="20.4" y="347.2" font-size="6" text-anchor="middle" fill="#2b2b2b" font-weight="normal" stroke="#2b2b2b" stroke-width="0.08">1</text>
<line x1="25.1" y1="324.50" x2="28.1" y2="324.50" stroke="#2a2a2a" stroke-width="0.8"/>
<text x="20.4" y="326.6" font-size="6" text-anchor="middle" fill="#2b2b2b" font-weight="normal" stroke="#2b2b2b" stroke-width="0.08">2</text>
<line x1="25.1" y1="303.90" x2="28.1" y2="303.90" stroke="#2a2a2a" stroke-width="0.8"/>
<text x="20.4" y="306.0" font-size="6" text-anchor="middle" fill="#2b2b2b" font-weight="normal" stroke="#2b2b2b" stroke-width="0.08">3</text>
<line x1="25.1" y1="283.30" x2="28.1" y2="283.30" stroke="#2a2a2a" stroke-width="0.8"/>
<text x="20.4" y="285.4" font-size="6" text-anchor="middle" fill="#2b2b2b" font-weight="normal" stroke="#2b2b2b" stroke-width="0.08">4</text>
<line x1="25.1" y1="262.70" x2="28.1" y2="262.70" stroke="#2a2a2a" stroke-width="0.8"/>
<text x="20.4" y="264.8" font-size="6" text-anchor="middle" fill="#2b2b2b" font-weight="normal" stroke="#2b2b2b" stroke-width="0.08">5</text>
<text x="13.0" y="308" font-size="6.0" text-anchor="middle" fill="#2b2b2b" font-weight="bold" transform="rotate(-90 13.0 308)" textLength="65" lengthAdjust="spacingAndGlyphs" stroke="#2b2b2b" stroke-width="0.08">Log10 interval length (Bp)</text>
<text x="122.8" y="249.2" font-size="7.5" text-anchor="middle" fill="#222" font-weight="normal" textLength="60" lengthAdjust="spacingAndGlyphs" stroke="#222" stroke-width="0.08">Chromocataclysm</text>
<defs><linearGradient id="cb226" x1="0" y1="1" x2="0" y2="0"><stop offset="0" stop-color="#ffffff"/><stop offset="0.5" stop-color="#d4939b"/><stop offset="0.8" stop-color="#a8434f"/><stop offset="1" stop-color="#5c0a18"/></linearGradient></defs>
<rect x="226.7" y="253.9" width="3.4" height="59.29999999999998" fill="url(#cb226)" stroke="#888" stroke-width="0.4"/>
<text x="232.8" y="256.3" font-size="6.2" text-anchor="start" fill="#333" font-weight="normal" stroke="#333" stroke-width="0.08">12%</text>
<text x="232.8" y="266.09999999999997" font-size="6.2" text-anchor="start" fill="#333" font-weight="normal" stroke="#333" stroke-width="0.08">10%</text>
<text x="232.8" y="275.9" font-size="6.2" text-anchor="start" fill="#333" font-weight="normal" stroke="#333" stroke-width="0.08">8%</text>
<text x="232.8" y="285.7" font-size="6.2" text-anchor="start" fill="#333" font-weight="normal" stroke="#333" stroke-width="0.08">6%</text>
<text x="232.8" y="295.5" font-size="6.2" text-anchor="start" fill="#333" font-weight="normal" stroke="#333" stroke-width="0.08">4%</text>
<text x="232.8" y="305.3" font-size="6.2" text-anchor="start" fill="#333" font-weight="normal" stroke="#333" stroke-width="0.08">2%</text>
<text x="232.8" y="315.09999999999997" font-size="6.2" text-anchor="start" fill="#333" font-weight="normal" stroke="#333" stroke-width="0.08">0%</text>
<g filter="url(#hb)">
<rect x="295.20" y="252.60" width="6.55" height="52.45" fill="#fefbfc"/>
<rect x="295.20" y="305.00" width="6.55" height="25.05" fill="#fcecee"/>
<rect x="295.20" y="330.00" width="6.55" height="30.85" fill="#ffffff"/>
<rect x="301.70" y="252.60" width="6.55" height="47.45" fill="#fdf3f4"/>
<rect x="301.70" y="300.00" width="6.55" height="35.05" fill="#fae6e8"/>
<rect x="301.70" y="335.00" width="6.55" height="20.05" fill="#f4cfd2"/>
<rect x="301.70" y="355.00" width="6.55" height="5.85" fill="#fcecee"/>
<rect x="308.19" y="252.60" width="6.55" height="51.45" fill="#f0c2c6"/>
<rect x="308.19" y="304.00" width="6.55" height="32.05" fill="#f8dfe1"/>
<rect x="308.19" y="336.00" width="6.55" height="24.85" fill="#fefbfc"/>
<rect x="314.69" y="252.60" width="6.55" height="52.45" fill="#f7dadd"/>
<rect x="314.69" y="305.00" width="6.55" height="31.05" fill="#fae6e8"/>
<rect x="314.69" y="336.00" width="6.55" height="24.85" fill="#fffdfd"/>
<rect x="321.19" y="252.60" width="6.55" height="52.45" fill="#f0c2c6"/>
<rect x="321.19" y="305.00" width="6.55" height="8.05" fill="#fae6e8"/>
<rect x="321.19" y="313.00" width="6.55" height="47.85" fill="#fffdfd"/>
<rect x="327.68" y="252.60" width="6.55" height="47.45" fill="#fcecee"/>
<rect x="327.68" y="300.00" width="6.55" height="30.05" fill="#fae6e8"/>
<rect x="327.68" y="330.00" width="6.55" height="30.85" fill="#f4cfd2"/>
<rect x="334.18" y="252.60" width="6.55" height="63.45" fill="#f7dadd"/>
<rect x="334.18" y="316.00" width="6.55" height="29.05" fill="#e4979d"/>
<rect x="334.18" y="345.00" width="6.55" height="15.85" fill="#edb6ba"/>
<rect x="340.68" y="252.60" width="6.55" height="47.45" fill="#fae6e8"/>
<rect x="340.68" y="300.00" width="6.55" height="60.85" fill="#f4cfd2"/>
<rect x="347.17" y="252.60" width="6.55" height="63.45" fill="#f0c2c6"/>
<rect x="347.17" y="316.00" width="6.55" height="44.85" fill="#f7dadd"/>
<rect x="353.67" y="252.60" width="6.55" height="63.45" fill="#f0c2c6"/>
<rect x="353.67" y="316.00" width="6.55" height="34.05" fill="#e499a0"/>
<rect x="353.67" y="350.00" width="6.55" height="10.85" fill="#e19097"/>
<rect x="360.17" y="252.60" width="6.55" height="51.45" fill="#f0c2c6"/>
<rect x="360.17" y="304.00" width="6.55" height="14.05" fill="#f0c2c6"/>
<rect x="360.17" y="318.00" width="6.55" height="42.85" fill="#ffffff"/>
<rect x="366.66" y="252.60" width="6.55" height="51.45" fill="#f4cfd2"/>
<rect x="366.66" y="304.00" width="6.55" height="14.05" fill="#fae6e8"/>
<rect x="366.66" y="318.00" width="6.55" height="42.85" fill="#fffdfd"/>
<rect x="373.16" y="252.60" width="6.55" height="47.45" fill="#fefbfc"/>
<rect x="373.16" y="300.00" width="6.55" height="20.05" fill="#fcecee"/>
<rect x="373.16" y="320.00" width="6.55" height="40.85" fill="#f7dadd"/>
<rect x="379.66" y="252.60" width="6.55" height="47.45" fill="#fef8f8"/>
<rect x="379.66" y="300.00" width="6.55" height="20.05" fill="#fae6e8"/>
<rect x="379.66" y="320.00" width="6.55" height="40.85" fill="#fcecee"/>
<rect x="386.15" y="252.60" width="6.55" height="47.45" fill="#fcecee"/>
<rect x="386.15" y="300.00" width="6.55" height="20.05" fill="#fae6e8"/>
<rect x="386.15" y="320.00" width="6.55" height="40.85" fill="#eebbbf"/>
<rect x="392.65" y="252.60" width="6.55" height="47.45" fill="#fdf3f4"/>
<rect x="392.65" y="300.00" width="6.55" height="18.05" fill="#f7dadd"/>
<rect x="392.65" y="318.00" width="6.55" height="8.05" fill="#e29299"/>
<rect x="392.65" y="326.00" width="6.55" height="34.85" fill="#f0c2c6"/>
<rect x="399.14" y="252.60" width="6.55" height="47.45" fill="#fcecee"/>
<rect x="399.14" y="300.00" width="6.55" height="22.05" fill="#fae6e8"/>
<rect x="399.14" y="322.00" width="6.55" height="38.85" fill="#ffffff"/>
<rect x="405.64" y="252.60" width="6.55" height="47.45" fill="#fdf3f4"/>
<rect x="405.64" y="300.00" width="6.55" height="20.05" fill="#fcecee"/>
<rect x="405.64" y="320.00" width="6.55" height="30.05" fill="#eebbbf"/>
<rect x="405.64" y="350.00" width="6.55" height="8.05" fill="#e69ea4"/>
<rect x="405.64" y="358.00" width="6.55" height="2.85" fill="#edb6ba"/>
<rect x="412.14" y="252.60" width="6.55" height="47.45" fill="#fef9fa"/>
<rect x="412.14" y="300.00" width="6.55" height="20.05" fill="#fae6e8"/>
<rect x="412.14" y="320.00" width="6.55" height="30.05" fill="#e69ea4"/>
<rect x="412.14" y="350.00" width="6.55" height="10.85" fill="#e29299"/>
<rect x="418.63" y="252.60" width="6.55" height="47.45" fill="#fef9fa"/>
<rect x="418.63" y="300.00" width="6.55" height="20.05" fill="#fcecee"/>
<rect x="418.63" y="320.00" width="6.55" height="40.85" fill="#f4cfd2"/>
<rect x="425.13" y="252.60" width="6.55" height="47.45" fill="#fef8f8"/>
<rect x="425.13" y="300.00" width="6.55" height="20.05" fill="#fae6e8"/>
<rect x="425.13" y="320.00" width="6.55" height="29.05" fill="#e69ea4"/>
<rect x="425.13" y="349.00" width="6.55" height="11.85" fill="#ffffff"/>
<rect x="431.63" y="252.60" width="6.55" height="47.45" fill="#fef8f8"/>
<rect x="431.63" y="300.00" width="6.55" height="20.05" fill="#fae6e8"/>
<rect x="431.63" y="320.00" width="6.55" height="40.85" fill="#f7dadd"/>
<rect x="438.12" y="252.60" width="6.55" height="52.45" fill="#f0c2c6"/>
<rect x="438.12" y="305.00" width="6.55" height="15.05" fill="#f4cfd2"/>
<rect x="438.12" y="320.00" width="6.55" height="40.85" fill="#fae6e8"/>
<rect x="444.62" y="252.60" width="6.55" height="52.45" fill="#f7dadd"/>
<rect x="444.62" y="305.00" width="6.55" height="15.05" fill="#f7dadd"/>
<rect x="444.62" y="320.00" width="6.55" height="40.85" fill="#fef9fa"/>
<rect x="451.12" y="252.60" width="6.55" height="47.45" fill="#ffffff"/>
<rect x="451.12" y="300.00" width="6.55" height="20.05" fill="#fdf3f4"/>
<rect x="451.12" y="320.00" width="6.55" height="40.85" fill="#f4cfd2"/>
<rect x="457.61" y="252.60" width="6.55" height="52.45" fill="#edb6ba"/>
<rect x="457.61" y="305.00" width="6.55" height="13.05" fill="#de868e"/>
<rect x="457.61" y="318.00" width="6.55" height="42.85" fill="#f0c2c6"/>
<rect x="464.11" y="252.60" width="6.55" height="62.45" fill="#eaaaaf"/>
<rect x="464.11" y="315.00" width="6.55" height="7.05" fill="#edb6ba"/>
<rect x="464.11" y="322.00" width="6.55" height="18.05" fill="#e69ea4"/>
<rect x="464.11" y="340.00" width="6.55" height="20.85" fill="#e08b92"/>
<rect x="470.61" y="252.60" width="6.55" height="47.45" fill="#fef9fa"/>
<rect x="470.61" y="300.00" width="6.55" height="20.05" fill="#fae6e8"/>
<rect x="470.61" y="320.00" width="6.55" height="30.05" fill="#e19097"/>
<rect x="470.61" y="350.00" width="6.55" height="10.85" fill="#dc818a"/>
<rect x="477.10" y="252.60" width="6.55" height="47.45" fill="#fdf3f4"/>
<rect x="477.10" y="300.00" width="6.55" height="20.05" fill="#fae6e8"/>
<rect x="477.10" y="320.00" width="6.55" height="40.85" fill="#f7dadd"/>
</g>
<rect x="295.2" y="252.6" width="188.40000000000003" height="108.20000000000002" fill="none" stroke="#1a1a1a" stroke-width="1.1"/>
<line x1="298.45" y1="360.8" x2="298.45" y2="363.8" stroke="#2a2a2a" stroke-width="0.8"/>
<text x="300.75" y="368.20" font-size="6.6" text-anchor="end" fill="#2b2b2b" font-weight="normal" transform="rotate(-90 300.75 368.20)" textLength="29.86" lengthAdjust="spacingAndGlyphs" stroke="#2b2b2b" stroke-width="0.12">(CACATT)n</text>
<line x1="304.94" y1="360.8" x2="304.94" y2="363.8" stroke="#2a2a2a" stroke-width="0.8"/>
<text x="307.24" y="368.20" font-size="6.6" text-anchor="end" fill="#2b2b2b" font-weight="normal" transform="rotate(-90 307.24 368.20)" textLength="14.07" lengthAdjust="spacingAndGlyphs" stroke="#2b2b2b" stroke-width="0.12">TA(n)</text>
<line x1="311.44" y1="360.8" x2="311.44" y2="363.8" stroke="#2a2a2a" stroke-width="0.8"/>
<text x="313.74" y="368.20" font-size="6.6" text-anchor="end" fill="#2b2b2b" font-weight="normal" transform="rotate(-90 313.74 368.20)" textLength="14.51" lengthAdjust="spacingAndGlyphs" stroke="#2b2b2b" stroke-width="0.12">AluJb</text>
<line x1="317.94" y1="360.8" x2="317.94" y2="363.8" stroke="#2a2a2a" stroke-width="0.8"/>
<text x="320.24" y="368.20" font-size="6.6" text-anchor="end" fill="#2b2b2b" font-weight="normal" transform="rotate(-90 320.24 368.20)" textLength="14.51" lengthAdjust="spacingAndGlyphs" stroke="#2b2b2b" stroke-width="0.12">AluJo</text>
<line x1="324.43" y1="360.8" x2="324.43" y2="363.8" stroke="#2a2a2a" stroke-width="0.8"/>
<text x="326.73" y="368.20" font-size="6.6" text-anchor="end" fill="#2b2b2b" font-weight="normal" transform="rotate(-90 326.73 368.20)" textLength="13.21" lengthAdjust="spacingAndGlyphs" stroke="#2b2b2b" stroke-width="0.12">AluJr</text>
<line x1="330.93" y1="360.8" x2="330.93" y2="363.8" stroke="#2a2a2a" stroke-width="0.8"/>
<text x="333.23" y="368.20" font-size="6.6" text-anchor="end" fill="#2b2b2b" font-weight="normal" transform="rotate(-90 333.23 368.20)" textLength="15.48" lengthAdjust="spacingAndGlyphs" stroke="#2b2b2b" stroke-width="0.12">AluSg</text>
<line x1="337.43" y1="360.8" x2="337.43" y2="363.8" stroke="#2a2a2a" stroke-width="0.8"/>
<text x="339.73" y="368.20" font-size="6.6" text-anchor="end" fill="#2b2b2b" font-weight="normal" transform="rotate(-90 339.73 368.20)" textLength="15.48" lengthAdjust="spacingAndGlyphs" stroke="#2b2b2b" stroke-width="0.12">AluSp</text>
<line x1="343.92" y1="360.8" x2="343.92" y2="363.8" stroke="#2a2a2a" stroke-width="0.8"/>
<text x="346.22" y="368.20" font-size="6.6" text-anchor="end" fill="#2b2b2b" font-weight="normal" transform="rotate(-90 346.22 368.20)" textLength="18.7" lengthAdjust="spacingAndGlyphs" stroke="#2b2b2b" stroke-width="0.12">AluSq2</text>
<line x1="350.42" y1="360.8" x2="350.42" y2="363.8" stroke="#2a2a2a" stroke-width="0.8"/>
<text x="352.72" y="368.20" font-size="6.6" text-anchor="end" fill="#2b2b2b" font-weight="normal" transform="rotate(-90 352.72 368.20)" textLength="15.15" lengthAdjust="spacingAndGlyphs" stroke="#2b2b2b" stroke-width="0.12">AluSx</text>
<line x1="356.92" y1="360.8" x2="356.92" y2="363.8" stroke="#2a2a2a" stroke-width="0.8"/>
<text x="359.22" y="368.20" font-size="6.6" text-anchor="end" fill="#2b2b2b" font-weight="normal" transform="rotate(-90 359.22 368.20)" textLength="18.38" lengthAdjust="spacingAndGlyphs" stroke="#2b2b2b" stroke-width="0.12">AluSx1</text>
<line x1="363.41" y1="360.8" x2="363.41" y2="363.8" stroke="#2a2a2a" stroke-width="0.8"/>
<text x="365.71" y="368.20" font-size="6.6" text-anchor="end" fill="#2b2b2b" font-weight="normal" transform="rotate(-90 365.71 368.20)" textLength="15.15" lengthAdjust="spacingAndGlyphs" stroke="#2b2b2b" stroke-width="0.12">AluSz</text>
<line x1="369.91" y1="360.8" x2="369.91" y2="363.8" stroke="#2a2a2a" stroke-width="0.8"/>
<text x="372.21" y="368.20" font-size="6.6" text-anchor="end" fill="#2b2b2b" font-weight="normal" transform="rotate(-90 372.21 368.20)" textLength="15.15" lengthAdjust="spacingAndGlyphs" stroke="#2b2b2b" stroke-width="0.12">AluSy</text>
<line x1="376.41" y1="360.8" x2="376.41" y2="363.8" stroke="#2a2a2a" stroke-width="0.8"/>
<text x="378.71" y="368.20" font-size="6.6" text-anchor="end" fill="#2b2b2b" font-weight="normal" transform="rotate(-90 378.71 368.20)" textLength="30.52" lengthAdjust="spacingAndGlyphs" stroke="#2b2b2b" stroke-width="0.12">HERV16-int</text>
<line x1="382.90" y1="360.8" x2="382.90" y2="363.8" stroke="#2a2a2a" stroke-width="0.8"/>
<text x="385.20" y="368.20" font-size="6.6" text-anchor="end" fill="#2b2b2b" font-weight="normal" transform="rotate(-90 385.20 368.20)" textLength="14.51" lengthAdjust="spacingAndGlyphs" stroke="#2b2b2b" stroke-width="0.12">L1M5</text>
<line x1="389.40" y1="360.8" x2="389.40" y2="363.8" stroke="#2a2a2a" stroke-width="0.8"/>
<text x="391.70" y="368.20" font-size="6.6" text-anchor="end" fill="#2b2b2b" font-weight="normal" transform="rotate(-90 391.70 368.20)" textLength="18.38" lengthAdjust="spacingAndGlyphs" stroke="#2b2b2b" stroke-width="0.12">L1MA9</text>
<line x1="395.90" y1="360.8" x2="395.90" y2="363.8" stroke="#2a2a2a" stroke-width="0.8"/>
<text x="398.20" y="368.20" font-size="6.6" text-anchor="end" fill="#2b2b2b" font-weight="normal" transform="rotate(-90 398.20 368.20)" textLength="18.7" lengthAdjust="spacingAndGlyphs" stroke="#2b2b2b" stroke-width="0.12">L1MDa</text>
<line x1="402.39" y1="360.8" x2="402.39" y2="363.8" stroke="#2a2a2a" stroke-width="0.8"/>
<text x="404.69" y="368.20" font-size="6.6" text-anchor="end" fill="#2b2b2b" font-weight="normal" transform="rotate(-90 404.69 368.20)" textLength="21.6" lengthAdjust="spacingAndGlyphs" stroke="#2b2b2b" stroke-width="0.12">L1ME4b</text>
<line x1="408.89" y1="360.8" x2="408.89" y2="363.8" stroke="#2a2a2a" stroke-width="0.8"/>
<text x="411.19" y="368.20" font-size="6.6" text-anchor="end" fill="#2b2b2b" font-weight="normal" transform="rotate(-90 411.19 368.20)" textLength="18.05" lengthAdjust="spacingAndGlyphs" stroke="#2b2b2b" stroke-width="0.12">L1MEc</text>
<line x1="415.39" y1="360.8" x2="415.39" y2="363.8" stroke="#2a2a2a" stroke-width="0.8"/>
<text x="417.69" y="368.20" font-size="6.6" text-anchor="end" fill="#2b2b2b" font-weight="normal" transform="rotate(-90 417.69 368.20)" textLength="20.21" lengthAdjust="spacingAndGlyphs" stroke="#2b2b2b" stroke-width="0.12">L1PA12</text>
<line x1="421.88" y1="360.8" x2="421.88" y2="363.8" stroke="#2a2a2a" stroke-width="0.8"/>
<text x="424.18" y="368.20" font-size="6.6" text-anchor="end" fill="#2b2b2b" font-weight="normal" transform="rotate(-90 424.18 368.20)" textLength="20.21" lengthAdjust="spacingAndGlyphs" stroke="#2b2b2b" stroke-width="0.12">L1PA14</text>
<line x1="428.38" y1="360.8" x2="428.38" y2="363.8" stroke="#2a2a2a" stroke-width="0.8"/>
<text x="430.68" y="368.20" font-size="6.6" text-anchor="end" fill="#2b2b2b" font-weight="normal" transform="rotate(-90 430.68 368.20)" textLength="16.98" lengthAdjust="spacingAndGlyphs" stroke="#2b2b2b" stroke-width="0.12">L1PA4</text>
<line x1="434.88" y1="360.8" x2="434.88" y2="363.8" stroke="#2a2a2a" stroke-width="0.8"/>
<text x="437.18" y="368.20" font-size="6.6" text-anchor="end" fill="#2b2b2b" font-weight="normal" transform="rotate(-90 437.18 368.20)" textLength="16.98" lengthAdjust="spacingAndGlyphs" stroke="#2b2b2b" stroke-width="0.12">L1PA8</text>
<line x1="441.37" y1="360.8" x2="441.37" y2="363.8" stroke="#2a2a2a" stroke-width="0.8"/>
<text x="443.67" y="368.20" font-size="6.6" text-anchor="end" fill="#2b2b2b" font-weight="normal" transform="rotate(-90 443.67 368.20)" textLength="9.68" lengthAdjust="spacingAndGlyphs" stroke="#2b2b2b" stroke-width="0.12">L2a</text>
<line x1="447.87" y1="360.8" x2="447.87" y2="363.8" stroke="#2a2a2a" stroke-width="0.8"/>
<text x="450.17" y="368.20" font-size="6.6" text-anchor="end" fill="#2b2b2b" font-weight="normal" transform="rotate(-90 450.17 368.20)" textLength="9.35" lengthAdjust="spacingAndGlyphs" stroke="#2b2b2b" stroke-width="0.12">L2c</text>
<line x1="454.37" y1="360.8" x2="454.37" y2="363.8" stroke="#2a2a2a" stroke-width="0.8"/>
<text x="456.67" y="368.20" font-size="6.6" text-anchor="end" fill="#2b2b2b" font-weight="normal" transform="rotate(-90 456.67 368.20)" textLength="27.4" lengthAdjust="spacingAndGlyphs" stroke="#2b2b2b" stroke-width="0.12">MER21-int</text>
<line x1="460.86" y1="360.8" x2="460.86" y2="363.8" stroke="#2a2a2a" stroke-width="0.8"/>
<text x="463.16" y="368.20" font-size="6.6" text-anchor="end" fill="#2b2b2b" font-weight="normal" transform="rotate(-90 463.16 368.20)" textLength="10.63" lengthAdjust="spacingAndGlyphs" stroke="#2b2b2b" stroke-width="0.12">MIR</text>
<line x1="467.36" y1="360.8" x2="467.36" y2="363.8" stroke="#2a2a2a" stroke-width="0.8"/>
<text x="469.66" y="368.20" font-size="6.6" text-anchor="end" fill="#2b2b2b" font-weight="normal" transform="rotate(-90 469.66 368.20)" textLength="13.86" lengthAdjust="spacingAndGlyphs" stroke="#2b2b2b" stroke-width="0.12">MIRb</text>
<line x1="473.86" y1="360.8" x2="473.86" y2="363.8" stroke="#2a2a2a" stroke-width="0.8"/>
<text x="476.16" y="368.20" font-size="6.6" text-anchor="end" fill="#2b2b2b" font-weight="normal" transform="rotate(-90 476.16 368.20)" textLength="18.59" lengthAdjust="spacingAndGlyphs" stroke="#2b2b2b" stroke-width="0.12">SVA_D</text>
<line x1="480.35" y1="360.8" x2="480.35" y2="363.8" stroke="#2a2a2a" stroke-width="0.8"/>
<text x="482.65" y="368.20" font-size="6.6" text-anchor="end" fill="#2b2b2b" font-weight="normal" transform="rotate(-90 482.65 368.20)" textLength="22.67" lengthAdjust="spacingAndGlyphs" stroke="#2b2b2b" stroke-width="0.12">Tigger3b</text>
<line x1="292.4" y1="344.60" x2="295.2" y2="344.60" stroke="#2a2a2a" stroke-width="0.8"/>
<text x="287.6" y="346.70000000000005" font-size="6" text-anchor="middle" fill="#2b2b2b" font-weight="normal" stroke="#2b2b2b" stroke-width="0.08">1</text>
<line x1="292.4" y1="325.40" x2="295.2" y2="325.40" stroke="#2a2a2a" stroke-width="0.8"/>
<text x="287.6" y="327.50000000000006" font-size="6" text-anchor="middle" fill="#2b2b2b" font-weight="normal" stroke="#2b2b2b" stroke-width="0.08">2</text>
<line x1="292.4" y1="306.20" x2="295.2" y2="306.20" stroke="#2a2a2a" stroke-width="0.8"/>
<text x="287.6" y="308.30000000000007" font-size="6" text-anchor="middle" fill="#2b2b2b" font-weight="normal" stroke="#2b2b2b" stroke-width="0.08">3</text>
<line x1="292.4" y1="287.00" x2="295.2" y2="287.00" stroke="#2a2a2a" stroke-width="0.8"/>
<text x="287.6" y="289.1" font-size="6" text-anchor="middle" fill="#2b2b2b" font-weight="normal" stroke="#2b2b2b" stroke-width="0.08">4</text>
<line x1="292.4" y1="267.80" x2="295.2" y2="267.80" stroke="#2a2a2a" stroke-width="0.8"/>
<text x="287.6" y="269.90000000000003" font-size="6" text-anchor="middle" fill="#2b2b2b" font-weight="normal" stroke="#2b2b2b" stroke-width="0.08">5</text>
<text x="278.9" y="305" font-size="6.0" text-anchor="middle" fill="#2b2b2b" font-weight="bold" transform="rotate(-90 278.9 305)" textLength="67.5" lengthAdjust="spacingAndGlyphs" stroke="#2b2b2b" stroke-width="0.08">Log10 interval length (Bp)</text>
<text x="389.7" y="248.2" font-size="7.5" text-anchor="middle" fill="#222" font-weight="normal" textLength="75.5" lengthAdjust="spacingAndGlyphs" stroke="#222" stroke-width="0.08">Non-Chromocataclysm</text>
<defs><linearGradient id="cb494" x1="0" y1="1" x2="0" y2="0"><stop offset="0" stop-color="#ffffff"/><stop offset="0.5" stop-color="#d4939b"/><stop offset="0.8" stop-color="#a8434f"/><stop offset="1" stop-color="#5c0a18"/></linearGradient></defs>
<rect x="494.6" y="253.9" width="3.4" height="59.099999999999994" fill="url(#cb494)" stroke="#888" stroke-width="0.4"/>
<text x="500.6" y="256.3" font-size="6.2" text-anchor="start" fill="#333" font-weight="normal" stroke="#333" stroke-width="0.08">12%</text>
<text x="500.6" y="266.09999999999997" font-size="6.2" text-anchor="start" fill="#333" font-weight="normal" stroke="#333" stroke-width="0.08">10%</text>
<text x="500.6" y="275.9" font-size="6.2" text-anchor="start" fill="#333" font-weight="normal" stroke="#333" stroke-width="0.08">8%</text>
<text x="500.6" y="285.7" font-size="6.2" text-anchor="start" fill="#333" font-weight="normal" stroke="#333" stroke-width="0.08">6%</text>
<text x="500.6" y="295.5" font-size="6.2" text-anchor="start" fill="#333" font-weight="normal" stroke="#333" stroke-width="0.08">4%</text>
<text x="500.6" y="305.3" font-size="6.2" text-anchor="start" fill="#333" font-weight="normal" stroke="#333" stroke-width="0.08">2%</text>
<text x="500.6" y="315.09999999999997" font-size="6.2" text-anchor="start" fill="#333" font-weight="normal" stroke="#333" stroke-width="0.08">0%</text>
</svg></body></html>
